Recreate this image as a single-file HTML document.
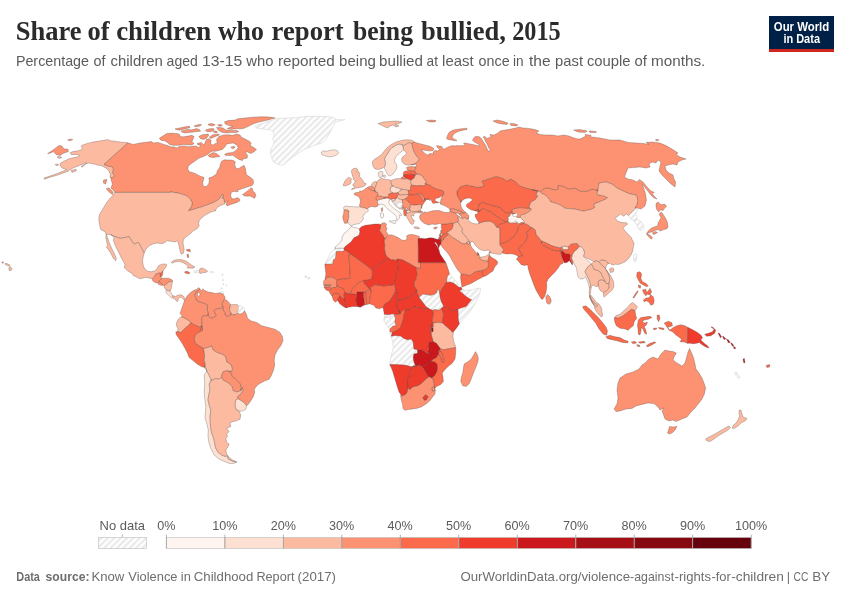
<!DOCTYPE html>
<html lang="en">
<head>
<meta charset="utf-8">
<title>Share of children who report being bullied, 2015</title>
<style>
html,body{margin:0;padding:0;background:#fff;}
body{width:850px;height:600px;overflow:hidden;font-family:"Liberation Sans",sans-serif;}
svg{display:block;}
.title{font-family:"Liberation Serif","DejaVu Serif",serif;font-weight:bold;font-size:27.5px;fill:#2b2b2b;}
.sub{font-family:"Liberation Sans",sans-serif;font-size:14.2px;fill:#5b5b5b;}
.lg{font-family:"Liberation Sans",sans-serif;font-size:12.6px;fill:#5b5b5b;}
.ft{font-family:"Liberation Sans",sans-serif;font-size:12.6px;fill:#6e6e6e;}
.logo{font-family:"Liberation Sans",sans-serif;font-weight:bold;font-size:12px;fill:#fff;}
#map path{fill-rule:evenodd;stroke:#333;stroke-width:.32;stroke-linejoin:round;stroke-opacity:.85}
#map path.nd{stroke:#cfcfcf;stroke-width:.5;stroke-opacity:1}
.nd{fill:url(#hatch)}
.c0{fill:#fff5f0}
.c1{fill:#fee0d2}
.c2{fill:#fcbba1}
.c3{fill:#fc9272}
.c4{fill:#fb6a4a}
.c5{fill:#ef3b2c}
.c6{fill:#cb181d}
.c7{fill:#a50f15}
.c8{fill:#860811}
.c9{fill:#67000d}
</style>
</head>
<body>
<svg width="850" height="600" viewBox="0 0 850 600">
<defs>
<pattern id="hatch" patternUnits="userSpaceOnUse" width="4.5" height="4.5" patternTransform="rotate(45)">
<rect width="4.5" height="4.5" fill="#fff"/>
<line x1="2.25" y1="-1" x2="2.25" y2="5.5" stroke="#e6e6e6" stroke-width="1.9"/>
</pattern>
</defs>
<rect width="850" height="600" fill="#fff"/>
<text class="title" y="40.4"><tspan x="15.8" textLength="65.8" lengthAdjust="spacingAndGlyphs">Share</tspan> <tspan x="87.6" textLength="22.1" lengthAdjust="spacingAndGlyphs">of</tspan> <tspan x="116.2" textLength="95.1" lengthAdjust="spacingAndGlyphs">children</tspan> <tspan x="218" textLength="45.8" lengthAdjust="spacingAndGlyphs">who</tspan> <tspan x="271.6" textLength="72.1" lengthAdjust="spacingAndGlyphs">report</tspan> <tspan x="353" textLength="60" lengthAdjust="spacingAndGlyphs">being</tspan> <tspan x="421" textLength="84.8" lengthAdjust="spacingAndGlyphs">bullied,</tspan> <tspan x="512.2" textLength="48.5" lengthAdjust="spacingAndGlyphs">2015</tspan></text>
<text class="sub" y="65.6"><tspan x="15.9" textLength="73.1" lengthAdjust="spacingAndGlyphs">Percentage</tspan> <tspan x="93.6" textLength="12" lengthAdjust="spacingAndGlyphs">of</tspan> <tspan x="110.5" textLength="52.3" lengthAdjust="spacingAndGlyphs">children</tspan> <tspan x="166.6" textLength="31.2" lengthAdjust="spacingAndGlyphs">aged</tspan> <tspan x="202" textLength="40.2" lengthAdjust="spacingAndGlyphs">13-15</tspan> <tspan x="246.2" textLength="27.2" lengthAdjust="spacingAndGlyphs">who</tspan> <tspan x="278" textLength="56.8" lengthAdjust="spacingAndGlyphs">reported</tspan> <tspan x="339.1" textLength="36.8" lengthAdjust="spacingAndGlyphs">being</tspan> <tspan x="379.1" textLength="43.8" lengthAdjust="spacingAndGlyphs">bullied</tspan> <tspan x="426.6" textLength="11.4" lengthAdjust="spacingAndGlyphs">at</tspan> <tspan x="442.1" textLength="31.5" lengthAdjust="spacingAndGlyphs">least</tspan> <tspan x="478.6" textLength="31" lengthAdjust="spacingAndGlyphs">once</tspan> <tspan x="513.1" textLength="10.6" lengthAdjust="spacingAndGlyphs">in</tspan> <tspan x="529" textLength="21.6" lengthAdjust="spacingAndGlyphs">the</tspan> <tspan x="555.1" textLength="27.9" lengthAdjust="spacingAndGlyphs">past</tspan> <tspan x="586.9" textLength="43.7" lengthAdjust="spacingAndGlyphs">couple</tspan> <tspan x="634.5" textLength="12.4" lengthAdjust="spacingAndGlyphs">of</tspan> <tspan x="651" textLength="54.3" lengthAdjust="spacingAndGlyphs">months.</tspan></text>
<g id="logo">
<rect x="769" y="16" width="65" height="36" fill="#002147"/>
<rect x="769" y="49" width="65" height="3" fill="#ce261e"/>
<text class="logo" x="801.5" y="30.8" text-anchor="middle" textLength="55.4" lengthAdjust="spacingAndGlyphs">Our World</text>
<text class="logo" x="801.7" y="43" text-anchor="middle" textLength="36.6" lengthAdjust="spacingAndGlyphs">in Data</text>
</g>
<g id="map">
<path class="c3" d="M50,153.2L53.6,151.6L56,154.4L60,155.6L63.6,153.2L68.4,151.6L68,149.2L63.6,148.8L62,146L59,145.4L52.4,150.4L47.6,153.6Z"/>
<path class="c3" d="M70,140.8L72.8,139.6L70.4,139L67.6,140Z"/>
<path class="c2" d="M71.6,154.8L77,154.4L79.6,155.6L78,156.8L74,157.6L69,158.8L64,161.2L60.4,163.2L60,165.2L62,168L66.8,169.5L64,170.8L58,173.2L50,176L44,178L44.4,179.2L50,177.2L56,175.6L62,173.6L68,171.2L70,169.6L70.4,169.6L73,168L80,165.2L85,162.8L86.5,162.6L86.7,163L84,164.4L81,166.4L82,167.2L86,164L89,163L91,163.6L94,164L98,165.2L101,165.6L104,167L106.4,168.4L109,171L110.4,174.4L110,177.2L112.4,178L114.4,175.6L112.4,172.4L113.6,169.6L112.4,166.8L109.6,166.4L107,165.6L104,164.4L128,142.8L120,142L115,141.2L110.4,140.8L108,139.6L101,140.8L94,141.8L88,143.2L82,145.2L81,146.4L82.4,148L81,150L78,150.8L73,151.6L70,152.8ZM76,169.2L71,170.4L72,172.4L76.4,170.8ZM59,158.4L62,157.8L60,156.6L57,156.8ZM56,165.6L58.4,165.2L58,164L55.2,164.4Z"/>
<path class="c3" d="M245.9,127.6L254.1,123.5L260,121.8L265.9,120.6L270.6,119.2L275.3,118L271.8,117.3L265.9,116.8L260,116.8L251.8,117.3L244.7,118L237.6,118.8L235.3,120L228.2,120.6L224.5,121.8L225.3,124.1L228.2,125.3L232.9,126.5L229.4,127.6L227.1,128.8L230.6,129.4L236.5,128.8L242.4,128.8ZM198.8,147.4L195.3,145.9L189.4,146.7L183.5,145.9L178.8,146.5L177.6,147.9L172.9,146.7L170,146.9L170,146.4L167.2,145.5L167.1,145.3L165.6,144.9L158,142.4L153,143L152,141.6L148,142L140,143L133,144.4L128,142.8L104,164.4L107,165.6L109.6,166.4L112.4,166.8L113.6,169.6L112.4,172.4L114.4,175.6L112.4,178L110.8,177.5L111.2,180L112.4,184L111,188L114,191L115.2,192.4L170,192.4L170,191.8L177.1,192.9L181.8,194.1L185.3,195.3L188.2,197.1L190.6,199.4L192.1,202.4L191.8,205.3L190.6,207.6L188.4,210.8L193.3,209.4L198.4,207.8L202.9,206.5L212.4,202.9L217.1,200.6L219.4,198.8L221.7,195.3L223.3,194.6L223.3,196.6L221.7,197.6L223.4,198.2L224.7,202.7L224.7,202.6L224.7,202.4L225.9,202.4L227.6,201.2L228.2,200.9L228.2,201L225.9,204.1L227.1,205.9L230,204.7L237.1,202.4L240,200.6L239.4,198.8L237.6,197.6L234.7,198.8L232.1,198.8L230.6,195.9L231.3,192.3L234.7,191.2L235.3,191.8L238.2,191.5L237.6,190.2L252.4,185.3L253.8,182.4L252.9,179.4L250,177.1L246.5,174.7L245.9,171.8L245.3,168.2L244.1,165.3L238.2,168.8L235.9,168.2L234.7,164.7L235.3,161.8L233.5,160.6L231.2,160L227.6,160L224.1,159.8L221.8,161.2L220.6,163.5L220,166.5L218.8,168.8L217.1,171.2L216.8,173.5L214.7,175.3L211.8,177.1L208.8,177.9L209.4,180.6L208.8,183.5L207.1,185.9L204.7,186.8L202.9,185.3L202.7,182.4L204.1,177.4L201.2,176.5L198.2,175.3L195.3,173.5L192.4,172.4L189.4,171.8L188.2,170L187.8,168.2L188.2,166.5L190.6,164.1L194.1,161.8L198.8,158.2L203.5,156.5L207.1,154.7L211.7,151.2L211.7,151.3L211.8,151.2L215.3,151.2L218.8,150.6L222.4,149.4L225.3,146.5L226.6,144L232.9,142.9L236.5,144.7L238.2,147.6L236.5,150L232.9,152.4L228.2,152.9L224.7,154.1L225.3,155.3L229.4,155.6L232.9,155.3L235.3,157.1L238.8,159.4L242.4,160.6L243.5,158.8L247.1,158.2L247.6,155.3L245.3,152.4L247.1,151.8L250.6,153.5L254.1,151.8L256.5,149.4L252.9,147.1L250,145.3L251.2,143.5L249.4,141.2L241.2,137.1L240,134.9L236.5,134.1L232.9,135.3L228.2,134.7L223.5,134.9L218.8,136.5L216.5,139.4L217.1,142.4L217.5,143L214.1,144.1L212.9,145.3L210.6,143.5L211.2,140.6L209.4,138.8L206.5,139.4L205.3,141.8L204.7,144.1L203.4,144.5L201.2,142.4L197.1,143.5L197.6,144.7L201,145.4ZM251.2,187.6L249.4,189.4L242.4,194.7L244.7,195.9L247.1,196.2L249.4,195.9L251.2,196.5L252.9,197.6L254.7,198.2L255.9,195.3L254.7,192.4L252.9,191.2L252.4,188.8ZM220,127.4L216.5,127.6L218.2,130L221.2,132.1L225.9,132.9L230.6,132.6L236.5,132.6L238.8,131.4L236.5,130.6L230.6,130.6L225.9,130L223.5,128.2ZM233.5,146.2L230.6,147.4L232.9,148.8L235.3,147.2ZM221.2,124.4L217.6,124.7L218.8,126.2L222.4,125.9ZM220,156.5L216.5,153.5L212.9,152.4L208.2,155.3L209.4,157.1L212.9,157.6ZM219.4,134.9L218.8,134.1L212.9,134.7L209.4,137.1L210,138.2L211.8,138.2L215.3,136.5ZM216.5,130.9L212.9,131.2L214.7,132.9L217.6,132.4ZM208.2,124.1L208.8,125.3L212.4,125.9L215.3,124.7L211.8,123.5ZM209.4,128.8L205.3,130L207.1,131.8L210.6,131.8L214.1,130L213.5,128.6ZM208.8,135.3L208.2,134.1L202.4,134.7L198.8,136.5L200.6,138.8L203.5,139.4L206.5,138.2ZM194.1,125.9L195.3,126.7L199.4,126.2L201.8,124.7L198.8,124.4ZM181.8,132.1L184.7,132.9L189.4,132.6L195.3,131.8L200.6,131.2L199.4,129.4L196.5,128.6L191.8,129.8L187.1,129.4L181.2,130.9ZM167.1,133.5L166.7,133.6L159.3,138.3L160.3,139.7L160.9,139.9L161.2,140.4L164.7,140.8L168.2,142.9L169.4,144.4L172.9,145.3L178.8,145.3L183.5,144.4L187.1,144.7L191.8,145.1L194.1,143.5L191.8,141.8L192.9,139.4L194.1,136.5L191.8,135.3L188.2,136.1L183.5,136.8L179.4,136.5L179.8,135.6L180.1,135.5L179.9,135.3L180,134.9L177.6,133.5L174.3,133.4L172.3,133.1ZM175.3,128.8L175.6,129L175.2,129.1L176.6,129.5L177.6,130L178.2,129.9L179.4,130.2L185.1,128.8L190,127.7L189.3,126.2L183.7,127L179.9,127.9ZM113,192L109,188L106.4,188.6L107.6,190.4L109.6,192.4L112.4,194.4ZM107,179.4L103.6,180L103.4,183L105.6,184Z"/>
<path class="nd" d="M255.8,127.5L258.3,128.7L265,129.2L270.8,130L273.3,132.5L274.2,135.8L272.5,139.2L274.2,141.7L273.3,145L270.8,149.2L270.5,153.3L271.7,157.5L272.5,160.8L275,163.3L278.3,164.2L281.3,165.3L284.2,164.2L286.7,162L290,159.2L293.3,156.7L298.3,153.3L303.3,150L306.7,148.3L311.7,146.3L316.7,144.7L321.7,143L325,140.8L326.7,138.3L329.2,134.2L330.8,130.8L332.5,127.5L334.2,125L335,122L340,120.8L345,119.7L336.7,119.7L333.3,117.5L328.3,116.7L318.3,116.3L306.7,116.3L298.3,117.5L286.7,118L276.7,118.7L270,120.8L263.3,123.3L258.3,124.7L255,126.3Z"/>
<path class="c1" d="M322,154.7L325,155.8L329.2,157L333.3,156.3L336.7,155L338.7,153L337.5,150.8L334.2,149.7L330,150.3L326.7,151.3L323.3,150.8L321.3,152Z"/>
<path class="c2" d="M225,203.7L224.7,202.5L224.2,200.8L223.4,198.2L221.8,197.6L223.3,196.6L223.3,194.5L221.8,195.3L219.4,198.8L217.1,200.6L212.4,202.9L207.6,204.7L202.9,206.5L198.4,207.8L193.3,209.4L188.4,210.8L190.6,207.6L191.8,205.3L192.1,202.4L190.6,199.4L188.2,197.1L185.3,195.3L181.8,194.1L177.1,192.9L173.5,192.4L170,191.8L170,192.4L115.2,192.4L114.8,191.9L114.2,193L112.5,195.8L109.2,199.2L106.7,202.5L104.2,206.7L101.7,210.8L99.7,214.2L98.7,218.3L99.2,222.5L100,226.7L100.8,229.7L105,231.7L106.2,234.2L110.8,234.7L114.2,236.3L120,238.3L125,237.5L129.2,236.7L130.8,239.2L132.5,242.5L135,244.2L137.5,242.5L139.2,243.3L140.8,246.7L142.5,250L144.2,253L145.8,249.2L149.2,245.8L153.3,243.7L157.5,243L161.7,243.7L165,242.5L166.7,240.8L170.8,241.3L175,242L176.7,240.8L178.3,243L179.2,246.7L180,250.8L181.3,254.2L183.3,253.3L184.2,249.2L183.3,245L183,241.7L184.2,238.3L187.5,235.8L191.7,232.5L193.3,230.8L195,230L197.5,228.3L199.2,225.8L198.6,223.6L199.2,220.8L201.3,218.1L203.3,216.7L204.2,215.8L206.7,214.2L211.7,211.7L211.7,211.7L215.8,210.8L215.8,209.2L215.8,209.2L218.3,206.7L221.7,205Z"/>
<path class="c2" d="M115,245L117.5,250L120,255L122.5,260L125,264.2L124.2,267.5L127.5,270.8L132.9,273.9L132.9,275.3L140,278.8L142.4,278.2L145.9,277.3L149.4,278.2L152.4,278.8L154.7,276.5L155.9,274.1L157.6,273.5L160,272.9L160.2,273.5L162.1,271.8L162.9,271.2L164.1,269.4L165.9,267.1L166.8,264.7L165.3,263.9L161.2,264.4L158.2,265.9L157.1,268.8L154.7,270.9L151.2,271.8L147.6,271.2L144.7,268.8L143.3,266L143.3,265.8L142.5,260.8L143.3,256.7L144.2,253L142.5,250L140.8,246.7L139.2,243.3L137.5,242.5L135,244.2L132.5,242.5L130.8,239.2L129.2,236.7L125,237.5L120,238.3L114.2,236.3L110.8,234.7L114.2,237.5L113.3,240ZM106.7,241.7L107.5,245.8L106.3,247.5L108.3,249.2L110.8,253.3L113.3,258.3L115.8,260.8L116.3,258.3L114.2,253.3L111.7,248.3L109.2,242.5L107.5,237.5L106.2,234.2L105.8,237.5Z"/>
<path class="c2" d="M11.2,270.6L12,268.8L10.8,267L9,267.4L8.8,269L9.4,270.8ZM9.8,266.2L9.8,265L7,263.6L5,263.4L5.2,264.6L7.5,265.6ZM3.5,263L3.4,261.8L1.8,262L2,263.2Z"/>
<path class="nd" d="M309.8,279L309.8,277.4L308,277.4L308,279ZM306.6,277.4L306.6,276L305,276L305,277.4Z"/>
<path class="c4" d="M160.2,273.5L160,275.3L160.6,277.3L162.1,276.1L162.8,273.5L162.9,271.2L162.1,271.8Z"/>
<path class="c3" d="M152.7,280.8L154.1,282L156.5,282.9L158.2,282.4L158.1,282.5L159.4,281.3L159.4,280.8L162.1,278.2L160.6,277.3L160,275.3L160.2,273.5L160,272.9L157.6,273.5L155.9,274.1L154.7,276.5L152.4,278.8Z"/>
<path class="c3" d="M157.9,283.9L160,285.1L162.6,285.5L162.9,284.5L161.2,283.3L159.4,281.3L158.2,282.4Z"/>
<path class="c3" d="M168.8,282L172.6,281.1L172.7,280.8L171.2,279.2L168.2,278.2L162.1,278.2L159.4,280.8L159.4,281.3L161.2,283.3L162.9,284.5L162.9,284.7L164.1,285.9L165.3,284.7L167.1,283.5Z"/>
<path class="c2" d="M164.1,287.4L165.9,289.4L166.1,289.6L166.1,289.8L167.8,290.7L167.7,290.6L170,291.2L170.8,290L171.5,287.1L172,284.1L172.6,281.1L168.8,282L167.1,283.5L165.3,284.7L164.1,285.9Z"/>
<path class="c1" d="M165.9,291.2L166.5,293.3L168.2,294.7L170,296.5L171.5,298.2L172.7,297.1L172.7,297.2L173,295.6L172.5,295.4L171.2,292.9L170,291.2L167.6,290.6L166.1,289.8Z"/>
<path class="c2" d="M172.9,298.2L174.7,298.8L175.9,300.6L177.6,301.5L178.2,299.4L179.4,297.6L181.2,297.1L182.9,298.8L184.5,300.6L185.3,299.4L184.1,297.1L182.4,295.3L180,294.7L177.6,295.3L175.3,296.5L172.9,295.6L172.7,297.1Z"/>
<path class="c2" d="M172.4,263.2L174.7,262L177.6,261.5L180.6,261.8L183.5,262.9L186.5,264.7L188.2,266.5L187.1,267.9L190.6,268.2L194.1,267.9L194.7,266.7L191.8,265.3L189.4,263.5L187.1,261.8L184.7,260.6L181.2,259.6L177.6,259.4L173.5,260.6L171.2,262.4Z"/>
<path class="c4" d="M184.9,272.8L186.5,273.5L189.4,273.8L189.6,272.4L187.1,271.2L184.7,271.8Z"/>
<path class="nd" d="M194.1,272.6L197.1,272.6L199.8,272.9L199.4,270.6L196.5,270.2L193.9,271.2Z"/>
<path class="c2" d="M202.9,272.6L205.9,272.4L207.6,271.2L205.3,269.4L202.4,267.9L199.8,268.8L199.8,270.6L199.4,270.6L199.8,273.1L199.8,273L200.6,273.5Z"/>
<path class="nd" d="M210.6,273.1L213.9,272.4L212.9,271.4L209.6,271.8Z"/>
<path class="c4" d="M188.8,251.2L190.6,251.8L190,249.4L186.5,249.4L186.8,250.9ZM188,258L188.8,257.1L188.2,254.1L187.1,254.5L187.3,256.5Z"/>
<path class="nd" d="M221.2,294.1L223.5,293.3L222.9,291.4L220,292.4Z"/>
<path class="nd" d="M226.1,284.9L226.1,285.9L226.8,285.9L226.8,284.9ZM223.9,283.5L223.1,283.5L223.1,284.9L223.9,284.9ZM223.4,279.4L222.6,279.4L222.6,280.8L223.4,280.8ZM222.8,274.1L221.9,274.1L221.9,275.6L222.8,275.6ZM220.9,287.9L220.9,289.1L221.8,289.1L221.8,287.9Z"/>
<path class="c3" d="M222.4,302.4L221.8,304.7L222.9,306.5L222.9,310L224.7,312.4L225.3,315.3L227.6,316.5L230.6,315.3L231.2,312.9L229.4,310L230,307.6L230.6,304.7L228.8,302.4L226.5,300L224.1,299.4Z"/>
<path class="c2" d="M235.3,314.7L237.6,313.5L238.2,310L238.8,306.5L237.6,304.7L234.1,304.4L230.6,304.7L230,307.6L229.4,310L229.7,310.5L231.2,312.9L231,313.5L231.3,314.2L232.1,314.5L232.4,314.9Z"/>
<path class="c3" d="M194.4,295.9L195.9,298.2L196.5,300.6L198.8,301.8L202.4,302.9L205.9,304.1L207.6,305.3L207.1,307.6L207.6,311.2L208.2,314.1L208.8,316.5L210.6,318.2L213.5,317.6L216.5,315.9L215.3,313.5L214.1,310.6L215.3,309.4L217.6,308.8L221.2,308.2L222.9,306.5L221.8,304.7L222.4,302.4L224.1,299.4L225.3,298.2L224.7,296.5L223.5,294.7L222.9,293.5L221.2,294.1L220.2,292.7L218.8,292.9L215.3,293.5L211.8,292.6L208.2,292.1L204.7,290.6L202.9,288.8L201.2,291.2L200,288.8L198.2,290.6L196.5,291.2L195.3,293.5ZM200,294.7L198.8,296.5L197.6,295.3L197.6,292.9L199.4,292.4Z"/>
<path class="nd" d="M240,314.2L242.5,313.3L245,310.3L244.2,308.3L240.8,305.8L238.1,305.3L238.8,306.5L238.2,310L237.7,313.4Z"/>
<path class="c2" d="M180,317.5L178.3,319.2L176.7,322.5L176.3,325.8L178,328.3L177.5,331.7L180.8,332.5L183.3,330L185.8,327.5L189.2,325L190.8,322.5L188.3,320L185,318.3L181.7,316.7Z"/>
<path class="c4" d="M175.8,331.7L176.3,334.7L178.3,337.5L181.7,342.5L185,348.3L187.5,353.3L189.2,357.5L193.3,360.8L197.5,364.2L201.7,366.7L204.7,367.5L205.3,364.2L204.2,360L204.7,355.8L204.2,351.7L203.3,348.3L199.2,345.8L195.8,343.3L194.2,339.2L195,335.8L198.3,332.5L202.5,330.8L200.8,330L201.7,325.8L199.2,326.7L195,325L190.8,322.5L189.2,325L185.8,327.5L183.3,330L180.8,332.5L177.5,331.7Z"/>
<path class="c3" d="M207.6,305.3L205.9,304.1L202.4,302.9L198.8,301.8L196.5,300.6L195.9,298.2L194.4,295.9L195.3,293.5L196.5,291.2L198.2,290.6L200,288.8L198.8,287.6L196.5,289.4L193.5,290.6L190.6,292.4L188.2,294.7L186.5,297.1L185.3,299.4L184.5,300.6L180,313.5L182,315.5L181.7,316.7L185,318.3L188.3,320L190.8,322.5L195,325L199.2,326.7L201.7,325.8L202.5,330L202,323.3L201.7,319.2L202,317.7L202.9,315.9L203.1,315.8L207.5,315.8L207.8,314.2L208.2,314.1L208,313.1L207.6,311.2L207.3,309.1L207.1,307.6Z"/>
<path class="c2" d="M226.7,370.8L231.7,371.7L232.5,368.3L230.8,364.2L226.7,361.7L225.8,356.7L222.5,354.2L217.5,352.5L213.3,350L211.7,345.8L207.5,347.5L203.3,348.3L204.2,351.7L204.7,355.8L204.2,360L205.3,364.2L205.1,365.6L205.8,368.3L207.5,372.5L210,377.5L211.7,380.8L214.2,379.2L216.1,378.5L217.5,379.2L220,378.3L220.1,378.3L220.8,378.3L221,377.9L221.7,377.5L221.7,375L223.3,371.7Z"/>
<path class="c3" d="M226.7,370.8L223.3,371.7L221.7,375L221.7,377.5L223.3,380.3L227.5,382.5L231.7,386L233.4,391L233.4,390.8L236.7,392L240.8,390.8L241.3,386.7L240,383.3L235,378.3L232.5,376.7L230.8,372.5L229.6,371.7L229.5,371.3Z"/>
<path class="c1" d="M235,403.3L235.3,407.5L236.7,410L240,411.3L243.3,410.8L245.8,409.2L246.7,405.8L245,403.3L241.7,400.8L238.3,398.7L235.8,399.7Z"/>
<path class="c1" d="M204.7,398.3L205.8,406.7L205.3,413.3L205,418.3L206.7,423.3L208.3,430L208,435.8L208.7,441.7L210.8,448.3L214.2,455L219.2,459.2L225,461.7L230,463.7L234.2,463.3L236.7,462L233.3,461.3L228.3,459.2L227.5,455.8L225,456.3L221.7,455L218.3,452.5L215.8,448.3L214.7,443.3L213.7,438.3L211.7,433.3L210.8,428.3L210.3,423.3L210,416.7L210.8,410L209.2,405L208,400L208.7,395L210,390L209.2,385L210.8,380L211,379.5L210,377.5L207.5,372.5L206.9,371L204.2,375L204.7,383.3L204.2,391.7ZM206.8,370.9L205.8,368.3L205.1,365.6L204.7,367.5L204.2,367.4Z"/>
<path class="c2" d="M242.5,387.5L241.2,390L240.9,390L240.8,390.8L236.7,392L233.3,390.8L231.7,386L227.5,382.5L223.3,380.3L221.7,377.5L221,377.9L220.8,378.3L220.1,378.3L217.5,379.2L216.1,378.5L214.2,379.2L211.7,380.8L211,379.5L209.2,385L210,390L208.7,395L208,400L209.2,405L210.8,410L210,416.7L210.3,423.3L210.8,428.3L211.7,433.3L213.7,438.3L214.7,443.3L215.8,448.3L218.3,452.5L221.7,455L225,456.3L227.5,455.8L228.3,459.2L233.3,461.3L236.7,462L232.5,460L229.4,457.7L226.7,454.2L225.8,450L227.5,447.5L229.2,444.2L226.7,442.5L225.8,438.3L227.5,436.7L226.7,434.2L229.2,431.3L227.5,430L226.7,428L230.8,426.7L230,423L232.5,421.7L236.7,420.8L240,419.2L240.8,415L238.8,410.8L236.6,410L235.3,407.5L235,403.3L235.8,399.7L238.4,398.7L237.5,396.6L240.8,394.2L243.3,390Z"/>
<path class="c3" d="M202.5,330L201.7,325.8L200.8,330L202.5,330.8L198.3,332.5L195,335.8L194.2,339.2L195.8,343.3L199.2,345.8L203.3,348.3L207.5,347.5L211.7,345.8L213.3,350L217.5,352.5L222.5,354.2L225.8,356.7L226.7,361.7L230.8,364.2L232.5,368.3L231.7,371.7L228.8,371.2L230.8,372.5L232.5,376.7L235,378.3L240,383.3L241.3,386.7L240.9,390L241.2,390L242.5,387.5L243.3,390L240.8,394.2L237.5,396.7L238.3,398.7L241.7,400.8L245,403.3L246.7,405.8L248.3,404.2L250.8,400.8L253.3,396.7L254.7,392.5L254.3,389.1L255,388.3L257.5,385L261.7,382.5L265,380.8L269.2,379.2L270.5,376.9L270.8,376.7L271.2,375.7L271.7,375L271.8,374.3L273.3,370.8L274.7,365L274.2,360L275,355L277.5,350L280.8,345.8L283,340.8L282.5,336.7L280,332.5L275,329.2L261.7,325.8L256.7,322.5L250.8,320.8L247.5,318.3L246.7,315L244.6,310.8L242.5,313.3L240,314.2L237.7,313.4L237.6,313.5L235.3,314.7L232.4,314.9L232.1,314.5L231.3,314.2L231,313.5L230.6,315.3L227.6,316.5L225.3,315.3L224.7,312.4L222.9,310L222.9,306.5L221.2,308.2L217.6,308.8L215.3,309.4L214.1,310.6L215.3,313.5L216.5,315.9L213.5,317.6L210.6,318.2L208.8,316.5L208.2,314.1L207.8,314.2L207.5,315.8L203.1,315.8L202.9,315.9L202,317.7L201.7,319.2Z"/>
<path class="c2" d="M344.5,185.9L346.3,185.6L348.4,184.9L350.2,183.8L351.2,182.4L350.9,180.6L351.6,178.9L350.2,177.8L348.4,177.5L346.6,178.9L344.9,181L343.8,183.5L343.1,185.6Z"/>
<path class="c2" d="M361.2,178.2L359.4,176.5L360,174.1L358.8,171.8L356.5,171.8L358.2,170L356.5,168.2L353.5,168.6L351.8,170L351.4,171.4L351.8,173.5L352.6,175.3L352.3,175.4L352.6,176.4L353.3,177.2L353.4,177.7L353,178.9L354.1,180.3L355.5,181L355.1,182.4L353.7,183.5L352.6,184.9L353.4,185.9L354.8,186.6L353.7,187.7L351.9,188.8L351.6,189.8L353.4,189.1L355.5,188.3L357.6,187.7L360.1,187.4L361.8,187L363.2,186.6L364.6,185.9L365.7,184.9L366.1,183.5L364.3,183.1L364.1,182.9L362.9,180.6Z"/>
<path class="c3" d="M374.5,191.4L375.4,191.6L375.4,190.2L374.5,190.2Z"/>
<path class="c3" d="M374.5,188.1L373.1,187L371,186.3L368.9,186.6L367.5,187.4L368.9,188.8L371,190.2L374.5,191.2L374.5,190.2L375,190.2Z"/>
<path class="c2" d="M375.6,187.4L375.9,185.6L376.6,183.8L377,182.1L375.9,181.4L373.5,182.1L371.7,184.2L371,186.3L373.1,187L374.5,188.1Z"/>
<path class="c3" d="M376.3,199.7L377.4,200.8L378.8,200.1L380.9,199.4L383,199L384.4,197.9L383.7,196.9L381.6,196.2L379.1,195.8L377.4,195.5L376.6,196.9L375.6,198.3Z"/>
<path class="c3" d="M344.8,209.9L343.9,210L343.9,211.8L343.5,214.1L342.7,217.1L343.2,219.4L343.9,221.8L344.7,223.5L347.6,222.9L348.2,220L348.8,216.5L348.6,214L348.8,213.1L349.1,211L348.5,210.6L347.6,209.8L346.6,209.8L344.9,209.6Z"/>
<path class="c3" d="M381.5,211.5L382.4,211.2L382.8,209.4L382.4,207.6L381.2,208.4ZM374.6,191.2L373.3,190.8L371,190.2L368.9,188.8L367.5,187.4L365.7,188.4L363.2,190.2L361.5,191.2L359.7,190.9L359.4,192.5L355.8,192.6L354.1,193.7L354.4,194.8L356.2,195.5L358.3,196.5L359.7,198.3L360.4,200.8L360.1,203.2L359.4,205.4L360.1,207.1L364.6,208.2L367.1,208.9L368.9,207.8L371,206.4L375.2,207.1L377.4,206.4L378.7,204.7L378.2,204.3L377.7,202.9L377.4,201.4L377.7,200.6L377.4,200.7L376.3,199.7L375.6,198.3L376.7,196.9L377.4,195.4L378.4,193.7L377.4,192.3L374.5,191.4Z"/>
<path class="c3" d="M406.5,167.5L407,169.5L409,170.5L411.5,171L414,171.2L415,170L416,168L415,166.8L412,166.5L409,166.8Z"/>
<path class="c4" d="M404.5,171.2L403.5,172.5L403.3,174.2L403.5,174.3L403.5,175L404.6,175L404.5,175L407,174.5L410,174.2L413,174.5L415.5,175L417,174L416,172.2L414,171.2L411.5,171L409,170.5Z"/>
<path class="c5" d="M412.9,174.4L412.9,174.5L410,174.2L407,174.5L404.5,175L403.5,175L403.5,176.5L405,177.5L407,178.5L409,179.8L411,180L413,179L414.5,177.5L415,175.5L414.6,175.3L414.5,174.8Z"/>
<path class="c3" d="M401,177.5L401.2,178.8L403.5,179L406.5,179.2L407,178.5L405,177.5L403.5,176.5Z"/>
<path class="c2" d="M411,180L410.5,183L411.5,185L414,185.5L417,185.8L420.5,185.5L423.5,186L425.5,185L425,183.5L426.5,182.5L426,181L424,178.5L422.5,176L420,174.5L417,174L415.5,175L415,175.5L414.5,177.5L413,179Z"/>
<path class="c2" d="M400.9,178.8L397,178.5L393.5,179.5L390.5,180.5L390.8,182.5L391.8,185.6L392.9,186.2L393.5,186L395.5,187.5L398,188L400.5,189L409,190.5L411,189.5L410.5,187L411.5,185L410.5,183L411,180L409.1,179.8L407,178.5L406.5,179.2L403.6,179L401.2,178.8Z"/>
<path class="c2" d="M403.5,150L406,152.5L406.5,154L402.5,157L401.5,159L402,161.5L403.5,163.5L405.4,164.4L405.4,164.5L405.5,164.5L405.5,164.6L408,165.2L411,165L411.7,164.9L411.6,164.7L414,164.2L416,163L418,161L419.5,159L417.5,157L416,155L414.5,152.5L413.5,150L412,144.5L410.5,142.5L408,142.8L406,144.2L404,145.5L402,144.5L403,147Z"/>
<path class="c1" d="M399.5,144L397,144.5L394.5,146L392,147.5L390,149.5L388.5,152L387,154.5L385.5,156.5L384.5,159L385,161.5L385.5,164L384.5,166.5L384.5,168.5L385.5,170.5L386.5,172.5L387.5,174.5L389,176L391,175.5L393,174L394.5,172L396,170L397,167L396.5,164.5L395,162.5L394.5,160L395.5,157.5L397.5,155L399.5,153L402,151.5L403.5,150L403,147L402,144.5Z"/>
<path class="c2" d="M412,143L412.2,143L412.5,143L414.5,142L413,140.8L410.5,140L407,139.8L403,140L396,142L393,143.5L390.5,145L388,147L385.5,149.5L381.5,154.5L379,156.5L374,159.5L372.5,161.5L372.5,164L373.2,166.5L375,169L377.5,169.5L380.5,169L383,168L384.5,166.5L385.5,164L384.5,159L385.5,156.5L387,154.5L390,149.5L392,147.5L397,144.5L399.5,144L402,144.5L404,145.5L406,144.2L408,142.8L410.5,142.5L411.4,143.7ZM390,126L393,125L396,127L399,126L395,124.4L399,123.6L402,122L396,121L389,121.6L383,122L378,123.6L381,125L385,127L388,128Z"/>
<path class="c1" d="M385,177.5L386.2,176.2L385,175L383,175.5L383.5,177ZM378.8,176.5L380,178L382,177L382.5,175L383,172.5L382,171.2L380,171.5L378.5,172.5L378.3,174.5Z"/>
<path class="c3" d="M419.1,193.6L419.1,193.6L416.7,194L418.4,194.8L420,195.8L421.4,197.5L422.1,199.6L423.2,201.4L424.4,200.4L424.6,198.2L423.2,196.1L421.1,194.4L419,193.7Z"/>
<path class="c4" d="M444,194L443.6,191.2L440.8,190.1L438,189.4L435.2,188.4L432.4,186.9L430.6,185.2L428.1,184.5L425.3,183.4L425,183.5L425.5,185L423.5,186L420.5,185.5L417,185.8L414,185.5L411.5,185L410.5,187L411,189.5L409,190.5L408.2,190.4L408,191.2L408.7,193.3L409.8,194.7L411.9,195.1L414.7,194.7L416.8,194L418.9,193.6L421.1,194.4L423.2,196.1L424.6,198.2L424.9,200.4L426,199.3L428.1,198.9L430.2,199.6L431.6,200.4L432.1,202.6L433.5,203.5L435,203L437.5,202.8L438.1,203L438.7,202.1L436.7,201.8L436.7,201.4L436.5,201.5L435.2,200.8L435,199.5L436.5,198.2L438.8,197.8L440.8,196.5L442.9,195.4Z"/>
<path class="c2" d="M401.3,189.1L401.3,190L399.9,190.5L398.1,192.6L398.8,194.4L400.6,195.1L402.7,194.8L405.5,194.7L407.6,194.4L408.7,193.3L408,191.2L408.2,190.4Z"/>
<path class="c1" d="M390.7,186.9L390,189.8L390.7,191.2L392.1,192.6L394.2,193.3L396.4,192.9L398.1,192.6L399.9,190.5L401.3,190L401.3,189.1L400.5,189L398,188L395.5,187.5L393.5,186Z"/>
<path class="c2" d="M397.1,196.1L397.1,197.5L398.1,198.6L399.9,199.6L402,200L404.1,199.3L405.9,198.6L407.3,197.2L408.7,195.4L407.6,194.4L405.5,194.7L402.7,194.8L400.6,195.1L398.8,194.4Z"/>
<path class="c4" d="M409.8,194.7L408.7,193.3L407.6,194.4L408.7,195.4L407.3,197.2L405.9,198.6L406.6,200.4L408,201.8L409.8,203.2L411.2,204.6L414,205.2L416.8,204.9L419.6,204.6L421.2,205L421.6,205.9L420.8,208.1L420.9,208.1L421,207.7L421.5,208.6L422.5,205L424.5,202L426.5,199.5L428,199L430.1,200.6L428.6,199.1L428.1,198.9L426,199.3L425,200.3L424.6,198.1L424.4,200.3L423.2,201.4L422.1,199.6L421.4,197.5L420,195.8L418.2,194.7L416.8,194L414.7,194.7L411.9,195.1Z"/>
<path class="c4" d="M390,193.6L388.6,194L388.6,196L387.7,196.7L383.8,197L384.4,197.9L384,198.3L384.2,198.8L387,198.1L389.1,198.8L391.2,199.5L393.4,198.8L395.5,199.2L396.5,198.5L396.7,197.7L397.1,197.5L397.1,196.1L398.8,194.4L398.1,192.6L396.4,192.9L394.2,193.3L392.1,192.6Z"/>
<path class="c1" d="M391.2,199.5L392,201.2L393.5,201.2L393.4,201.1L395.1,200.6L395.5,199.2L393.4,198.8Z"/>
<path class="c1" d="M398.1,198.5L397.1,197.5L396.7,197.6L396.5,198.5L395.4,199.2L395.1,200.6L393.4,201.2L391.9,201.2L392.6,202.4L393.7,203.1L394.4,204.5L395.8,206.2L397.6,207.6L399.7,208.9L401.1,209.1L399.6,208.1L400.1,208L398.7,207.3L397.3,205.9L396.2,204.5L396.2,202.6L398.3,202.1L400.4,202.4L402.5,202.7L402.5,199.8L402,200L399.9,199.6L398.1,198.6L398,198.5Z"/>
<path class="nd" d="M396.2,204.5L397.2,205.9L398.6,207.3L400.1,208L401.4,207.7L401.4,207.7L402.9,206.6L402.2,205.9L402.9,204.1L402.5,202.7L400.4,202.4L398.3,202.1L396.2,202.6Z"/>
<path class="c3" d="M402.9,209.4L403.6,208.4L403.9,206.9L402.9,206.6L401.5,207.6L401.9,209.2L402.5,209.2Z"/>
<path class="nd" d="M405.4,209.4L406.4,209.9L407.5,208.9L406.8,207.8L405.4,207.6Z"/>
<path class="c4" d="M406.6,213L408,213.2L406.7,212.6L406.4,210.8L404.6,209.1L403.6,209.8L403.6,212.2L403.9,214.4L404.6,216.1L406.3,215.6L406.4,215.9L406.5,215.9L406.2,214.5L406.4,214L406.3,213.5Z"/>
<path class="c1" d="M406.6,212.6L407.8,213.2L409.9,212.6L411,211.5L410.3,210.3L408.2,210.1L406.4,210.8Z"/>
<path class="c3" d="M402.5,199.8L402.5,202.7L402.9,204.1L402.2,205.9L402.9,206.6L403.9,206.9L403.6,208.4L404.6,209.1L406.4,210.8L408.2,210.1L410.3,210.3L409.6,208.4L410.1,207L410.3,207L411,204.3L409.8,203.2L408,201.8L406.6,200.4L405.9,198.6L404.1,199.3L402.3,199.9L402.3,199.9ZM406.4,209.9L405.4,209.4L405.4,207.6L406.8,207.8L407.5,208.9Z"/>
<path class="c2" d="M410.1,206.9L409.6,208.4L410.3,210.3L411,211.5L411.7,212.2L418.1,211.2L420.9,211.2L420.8,211.1L421.1,211L420.7,210.9L420.2,209.8L420.9,208L421.6,205.9L421.3,205L419.6,204.6L416.8,204.9L414,205.2L411.2,204.6L410.9,204.4L410.3,206.9Z"/>
<path class="c2" d="M418.8,227.4L415.9,226.7L413.8,227.1L414.9,228.3L417.4,228.8L419.8,228.5ZM411,211.5L409.9,212.6L407.8,213.2L406.6,212.9L406.3,213.5L406.4,214L406.2,214.6L406.8,217.2L409.9,222.5L411,223.9L412.4,224.6L413.5,223.5L413.1,221.8L414.5,221.4L414.2,220.4L412.8,218.9L411.7,217.2L411,215.4L412.1,215.1L413.1,216.1L414.2,215.8L413.5,214.4L414.5,213.3L418.6,212.6L418.1,211.2L411.7,212.2Z"/>
<path class="c0" d="M378.9,204.8L380.6,204.1L382.8,204.5L384.5,205.2L385.6,206.9L387,208.4L388.8,210.1L390.5,211.2L392.3,212.6L394.1,214L395.5,215.8L396.9,217.5L396.2,218.9L396.9,220.4L398.3,219.6L399.7,217.9L399.4,216.1L399.7,214.7L401.1,215.8L402.2,215.1L401.1,213.6L399,212.2L396.9,210.5L394.8,209.1L392.6,207.3L390.9,205.5L389.5,204.1L388.8,202.4L389.1,200.9L390.2,199.9L389.9,199.1L389.1,198.8L387,198.1L384.2,198.8L384,198.3L383,199L380.9,199.4L378.8,200.1L377.6,200.6L377.4,201.4L377.7,202.9L378.2,204.4ZM393.4,223.2L395.1,223.9L395.8,222.1L396.2,220.5L394.8,220.4L391.9,221.1L389.5,220.7L389.8,221.8L391.2,222.5ZM382.8,217.9L383.6,216.5L383.5,213.6L382.1,212.7L380.3,213.3L380.6,216.8L381.4,218.2Z"/>
<path class="c2" d="M384.4,179.2L382.3,178.5L380.2,178.9L378.1,180.3L377,182.1L376.6,183.8L375.9,185.6L375.6,187.3L374.5,188L375,190.2L375.4,190.2L375.4,191.6L375.2,191.6L377.4,192.3L378.4,193.7L377.4,195.5L379.1,195.8L381.4,196.2L383.7,196.9L383.8,197.1L386.7,196.8L387,196.7L387.7,196.7L388.6,196L388.6,194L390,193.6L392.1,192.6L390.7,191.2L390,189.8L390.7,186.9L392.9,186.2L391.8,185.6L390.8,182.5L390.5,180.5L390.6,180.5L390.1,179.9Z"/>
<path class="c1" d="M364.7,208.1L360.1,207.1L359.8,206.5L358.2,207.1L353.5,206.7L348.8,206.5L345.3,205.9L343.5,207.6L343.5,208.8L344.7,210L344.8,209.9L344.9,209.6L346.6,209.8L347.6,209.8L348.5,210.6L349.1,211L348.6,214L348.8,216.5L348.2,220L347.6,222.9L348.8,223.5L350,225.3L351.6,225.8L351.4,226.2L353.5,224.7L359.4,223.5L361.8,221.2L363.5,218.8L362.9,216.5L364.1,214.1L368.8,210.6L367.1,208.9Z"/>
<path class="c4" d="M477,255L478,255.8L478.5,254.7L479.1,255.6L478.5,253.5L477.6,252.2L476.8,252.5Z"/>
<path class="c2" d="M470,243L471.3,241.8L471.1,241.7L469.4,242.2L468.5,241.2L466.8,242L467.2,244L469,244.5Z"/>
<path class="c2" d="M479.5,258.5L482,260L485,261L488,261.5L488,260L488.8,257.5L489.5,255L489,253.5L487.5,255L485.5,256.2L483,256.8L480,257.2Z"/>
<path class="c4" d="M481.5,270.5L482.5,274L483.5,276.5L485.5,276L488,274.5L490.5,272.5L493,271L494,268.5L495,266.5L497,264.5L497.8,262L496,260L491,257L489.5,255L488.8,257.5L488,260L488,261.5L488.5,264L488,267.5L485,269.5ZM490.2,251.2L489.9,251.3L490,251.5L489,253.3L490.3,253Z"/>
<path class="c4" d="M478,271L474.5,272L472,274L470,275.5L466,274.5L461,274L460.5,277L461,281L461.5,284.5L462,287L463.5,286.5L467,285L471,283.5L474.5,281.5L478,279.5L481,278L483.5,276.5L482.5,274L481.5,270.5Z"/>
<path class="c3" d="M434.5,229.2L436.5,228.5L437.5,227.2L435.5,227L433.5,227.8Z"/>
<path class="c0" d="M457.1,215.1L457.1,215.1L461,218L462.5,218.5L461.5,216.5L460,214.5L458,213L458.1,213L454.9,213Z"/>
<path class="c3" d="M450.2,211.6L450.2,211.5L452,212L455,213L457.9,213L460,214.5L460.5,213.5L463,213L462,211.5L453,208.5L450.2,209L450.2,209.9L450,209.9L450.2,211.7Z"/>
<path class="c3" d="M460,214.5L461.5,216.5L462.5,218.5L463.5,218.5L465,217.5L467,219L467.8,218.4L468.1,219.2L468.6,217.9L468.5,218L469,216L467.5,214L466,212.5L463,213L460.5,213.5Z"/>
<path class="c2" d="M440.5,233.5L441.5,233L441.8,230L440.5,230.5Z"/>
<path class="c6" d="M440.4,237.2L441.3,237L441.2,235.2L440.2,235.5Z"/>
<path class="c3" d="M440.5,233.5L440.5,233.6L439.5,234L439,237.5L440,240.5L440.8,238.5L441,237.1L440.4,237.2L440.2,235.5L441.1,235.2L440.8,233.3Z"/>
<path class="c4" d="M440.5,241L441.8,241.5L443.5,240L444.5,237.5L447,236L448.5,234L447,232.5L444.5,234L442.5,235L441.2,236L441.3,237L441,237.1L440.8,238.5Z"/>
<path class="c4" d="M452.2,229L453,226L453.5,223.5L452,223L446,224L443,223.8L441.5,224.5L441.2,227.5L442,229.9L441.8,230L441.5,233.1L441.5,233.2L441.5,233L442.5,235L444.5,234L449.5,231Z"/>
<path class="c3" d="M424.4,211.9L425.1,212.5L422.5,212.8L422,214L420,215L419.5,217.5L420.5,220L422.5,222L424.5,223.5L427,224.5L429,225L432,224L435,224.5L438,224L440,223.5L441.5,224.5L443,223.8L446,224L451.9,223L453.5,223.5L455.5,222.5L458.2,222L458.1,221.9L458,222L458.5,220L458,217.5L459,216.5L456.9,214.9L455,213L452,212L450.2,211.5L448.5,212.5L445,212.5L439,210.5L436,210.5L433,210.8L430,211.5L427.1,212.5ZM420.9,211.2L418,211.1L418.6,212.6L418.9,212.6L420,213.2L422.2,212.8L422.5,211.5L421,211L420.8,211Z"/>
<path class="c2" d="M448.5,234L452.5,237.5L456,239.5L462,243.5L465,244L466.9,242.6L466.8,242L468.5,241.2L469.2,242.1L469.5,242L469,240.5L465,235.5L463,233.5L462,231L462.5,228.5L460.5,226L459,223.5L458,222L455.5,222.5L453.5,223.5L453,226L452.2,229L449.5,231L447,232.5Z"/>
<path class="c2" d="M468.6,217.9L467,219L465,217.5L463.5,218.5L462.5,218.5L461,218L459,216.5L458,217.5L458.5,220L458,222L459,223.5L460.5,226L462.5,228.5L462,231L463,233.5L465,235.5L469,240.5L469.5,242L469.2,242.1L470,243L471.5,241.5L473.5,242L474.5,244L476,246L478,248L480,249.5L483,250.5L486,250.5L489,250L489.9,251.3L490.2,251.2L490.3,253L490.8,252.9L490.9,253L495.2,253.8L500.1,254.5L502.2,253L503.7,249.5L500,244.9L500,228L496.5,227.1L496.6,226.8L495.6,225.9L495,224L492,222L489,221L486.9,221.3L486.7,221.2L482.4,221.9L478.9,223.3L478.4,223.4L478,224L475,223.8L472,223L469.5,221.5L468,219.5Z"/>
<path class="c6" d="M440.5,241L440.8,238.4L440,240.5L439,237.5L438.5,239.5L436,239L433,238L430,237.8L425,238.8L421,238.2L418,238.5L418.2,250L418.2,262.7L420.5,262.7L420.5,262.8L446,262.8L446,262.7L444,260L440,254L439,250L438.3,248.5L439.5,246L440.1,244.1L440.8,245.1L441.2,241.2ZM437.9,247.7L436,244.5L434.5,242.8L435,242L436.5,243L437.5,245L438.3,247.5Z"/>
<path class="c3" d="M470,242.9L469,244.5L467.2,244L466.9,242.6L465,244L462,243.5L456,239.5L452.5,237.5L448.5,234L447,236L444.5,237.5L443.5,240L441.8,241.5L441.2,241.3L440.8,245L443,248L445.5,250.5L449.5,255.5L451,258.5L457,269L459.5,272L461,274L466,274.5L470,275.5L472,274L474.5,272L478,271L481.5,270.5L485,269.5L488,267.5L488.5,264L488,261.5L485,261L482,260L479.5,258.5L480,257.2L479,255.5L478.5,253.5L478.5,253.5L478.7,254.2L478,255.8L476.9,254.9L476.5,254.5L475.5,252L474,250L472,248L470.6,245.2L471,245L470.5,244.5Z"/>
<path class="c4" d="M475,210L474.9,210.7L476,211L478,212.5L477.5,214L475.5,214L475,216L476.2,218.5L477.5,220.5L479,222.5L478.4,223.4L478.9,223.3L479.9,222.9L479.9,222.9L482.4,221.9L486.7,221.2L486.9,221.3L489,221L492,222L495,224L495.6,225.9L496.6,226.8L499.4,224.7L503.7,223.3L506.5,221.9L502.2,219.8L498,216.9L493.8,214.1L490.2,211.2L486.7,210.5L483.8,208.4L480.3,209.8L479.2,212.1L479,210Z"/>
<path class="c0" d="M511.2,223L511.7,223.2L511.7,222.9L514.4,221.8L515.4,220.8L516.8,221.5L517.5,223.2L518.9,223.9L520.7,222.9L521.9,222.4L524.5,223.4L524.2,222.5L524.2,222.5L523.9,221.1L523.4,220.5L523.2,220L521.4,218.6L520.4,217.2L518.2,217.6L516.5,216.9L515.1,216.2L513.6,216.5L512.6,215.8L512.9,214.1L511.5,213.4L510.1,214.4L509.4,216.2L507.3,217.2L508.4,218.8L507.9,219.7L507.9,221.9L509,222.3L509,222.9L510.5,223.2Z"/>
<path class="c3" d="M520.7,215.5L522.1,214.6L523.9,214.4L525.6,213.7L527.4,212.6L529.2,211.6L530.6,210.5L531.6,209.1L529.5,208.3L526.7,208.1L523.9,207.8L521.1,207.6L518.2,207.7L515.8,208.4L513.3,208.8L511.5,210.2L512.2,211.6L512.9,212.6L513.3,213.7L514.7,213.5L516.5,213.2L517.9,214.1L517.2,215.5L516.5,216.9L518.2,217.6L520.4,217.2Z"/>
<path class="c4" d="M484.4,202.8L483.1,202L478.9,204.2L478.2,208.4L478.4,210L479,210L479.2,212.1L480.3,209.8L483.8,208.4L486.7,210.5L490.2,211.2L493.8,214.1L502.2,219.8L506.5,221.9L507.9,221.9L507.9,219.8L508.4,218.8L507.3,217.2L509.4,216.2L510.1,214.4L511.5,213.4L512.9,214.1L512.9,214.2L514.7,213.5L513.3,213.7L512.9,212.6L512.2,211.5L508,213L505.5,212.3L503.7,211.2L500.8,207.7L496.7,206.3L496.7,206.3L493.9,205.9Z"/>
<path class="c4" d="M503.5,223.3L499.4,224.7L496.6,226.8L496.5,227.1L500,228L500,243.5L500.1,243.6L503.7,243.1L507.2,241.7L510.8,238.9L513.6,236.8L515.7,233.9L517.8,230.4L518.5,226.8L520.7,224.7L524.2,223.3L521.9,222.4L520.7,222.9L518.9,223.9L517.5,223.2L517.2,222.5L512.2,223.3L511.2,223L510.5,223.2L509.1,222.9L509,222.2L508,221.9L508.1,221.8L506.5,221.8Z"/>
<path class="c4" d="M500.1,243.6L500,243.5L500,244.9L500.8,246L503.7,249.5L502.2,253L506.5,254L510.8,253.8L515,254.5L518.5,256.6L522.8,255.9L520.7,252.3L518.5,248.8L521.4,246L524.2,243.1L526.3,239.6L527.8,236L526.3,232.5L529.2,230.4L531.3,227.5L527.8,224.7L524.2,223.3L520.7,224.7L518.5,226.8L517.8,230.4L515.7,233.9L513.6,236.8L510.8,238.9L507.2,241.7L503.7,243.1Z"/>
<path class="c4" d="M483.1,202L484.4,202.8L493.9,205.9L496.6,206.3L500.8,207.7L503.7,211.2L505.6,212.4L508,213L512.2,211.5L511.5,210.2L513.3,208.8L515.8,208.4L518.2,207.7L521.1,207.6L523.9,207.8L529.5,208.3L530.8,208.8L529,207L531,202L535,200L538,196L536,195L538,191L532,189.6L526,188L520,186L516,182L511,179L507,181L502,178L496,176.4L482,181L484,186L478,187.6L472,186L466,185L460,187L457,191L457,195L460.8,202.5L462,200.5L465,198.8L467.3,198.3L468,198L468.2,198.1L468.5,198L471.5,198.5L471.6,198.9L472,199L471.9,199.6L472.2,200.5L470.5,201.5L469,203L467,204L466,206L467.5,207.5L469.5,209L471.5,210L474.9,210.7L475,210L478.4,210L478.2,208.4L478.9,204.2Z"/>
<path class="c3" d="M541.8,193.5L544.7,194.7L547.6,197.1L549.4,199.4L550.6,201.8L554.1,202.7L558.2,204.1L561.8,205.9L564.7,208.2L568.2,208.6L572.4,208.8L576.5,209.4L580.6,210.6L584.1,211.2L587.6,210L591.2,209.4L594.7,207.6L594.1,205.9L594.7,203.5L598.2,202.4L601.8,200.8L605.3,199.4L607.6,197.6L604.1,195.9L600.6,195.3L597.6,194.7L597.1,192.4L598.2,190.6L595.3,189.8L591.8,189.1L588.8,190.6L585.3,191.4L581.2,191.4L578.2,189.8L575.3,188.2L571.8,188.6L568.2,188.8L565.3,187.1L561.8,185.9L558.2,185.3L557.6,189.4L554.1,189.8L550.6,188.6L546.5,187.6L542.9,189.4L540,191.8Z"/>
<path class="c3" d="M482.8,141L481.5,138.7L481.5,138.9L479.5,136.8L476,136.2L474,137.5L472.5,140.5L474.5,142L479.5,145L479,146L474,144.8L466,143.2L463.5,143L465,144.5L463.5,145.5L460,145.8L457,145.5L454.5,146L453,145.5L450,146.2L447,147.5L444.5,149L442.5,148.5L442,146.5L439,146L436.5,145.5L437.5,147.5L439.5,149.5L438,151L435,150.5L433,152L433.5,154L431,153.5L428.5,154L429,156L427.5,155L425,153.5L423,151.5L421,150L423,150L426,150.5L430,151L433,150.5L434,149L432.5,147.5L429,146L417,143L414.5,142L412.5,143L412.2,142.9L412,143L411.4,143.6L412,144.5L413.5,150L414.5,152.5L416,155L417.5,157L419.5,159L418,161L416,163L414,164.2L411.6,164.7L411.6,164.9L414,164.4L416.2,164.2L416.4,166.8L415,166.8L416,168L415,170L414,171.2L416,172.2L417,174L420,174.5L422.5,176L424,178.5L426,181L426.5,182.5L425.1,183.4L425.3,183.4L428.1,184.5L430.6,185.2L432.4,186.9L435.2,188.4L438,189.4L440.8,190.1L443.6,191.2L444,194L442.9,195.4L441.9,195.9L442.3,196.1L441.3,198.2L441.2,198.2L440.8,200.1L441,199.9L440.5,201.5L439.6,202.3L441.6,203.9L439.9,203.5L446,206.5L448.5,208L450,209.5L450,209.9L450.2,210L450.2,209L453,208.5L462,211.5L463,213L466,212.5L464,211L462,208.5L461,206L460.5,203L462,200.5L460.8,202.5L457,195L457,191L460,187L466,185L472,186L478,187.6L484,186L482,181L496,176.4L502,178L507,181L511,179L516,182L520,186L526,188L532,189.6L536.6,190.7L538.4,191L540,191.8L542.9,189.4L546.5,187.6L550.6,188.6L554.1,189.8L557.6,189.4L558.2,185.3L561.8,185.9L565.3,187.1L568.2,188.8L571.8,188.6L575.3,188.2L578.2,189.8L581.2,191.4L585.3,191.4L588.8,190.6L591.8,189.1L595.3,189.8L596.6,190.1L598,190L599,183L606,182L612,184L617,188L623,191L630,194L636,195L637.1,197.2L637.6,200.8L637,204L635,208L637,208L641,209L645,206L646.4,200L645.6,194L644,189L642.2,184.4L642.4,184.3L643,185L647,190L650,194L654,198L657,199L655,197L652,193.6L654.4,192.4L651,191L647,187L643,182L639.5,179.5L637,182L633,180L628,179L624.4,177L628,168L634,167.6L640,167L646,168L650,167L649,164L652,162L656,163L658,160L661,162L660,166L659,171L662,175L671,184L675,187L675.6,182L674,179L673,175L669,173L666,170L665,166L668,165L673,164L677,165L678,162L682,160L686,159L680,157L676,154.4L678,153L672,149L666,145.6L660,143L652,142L646,142.4L649,144.4L644,143.6L628,142.4L620,140L610,140L600,138L592,137L590.5,136.8L591,135.2L585,134.4L585.8,136.1L580.5,138.8L578,139L574,138L569,136L564,135L558,136L552,135L546,135L540,134.4L536,133L539,131L535,129.6L529,128.4L523,128L519,127L516,128L511,129L505,130L500,131L498,133L494,135L490,134.4L491,137L487,138.4L485,136.4L483.2,136.8L484.5,139L485.8,142L487.6,145L488.8,148L490,149.8L489.8,151.2L488.2,150.8L487,148.5L485.8,145.5ZM658.6,140.6L658.4,139.4L655.6,139.6L656,140.8ZM596.4,132.4L596,131.4L589,131L590,132.4ZM583,130.2L580,129.6L573.6,130L578,132L585,132.4L586,131.7L587,131.6L586.7,131.2L587,131L586.4,130.9L586,130.4ZM514,123.6L510,123.6L511,125.4L516,126L518,125ZM502,124L507,124.4L508,123L502,121L497,120L493,121L497,123ZM459,131.2L463,130.2L467,129.5L467,128.2L461,128.8L456,129.5L452,130.5L449,132.5L447.5,135.5L446.5,138.5L448,139.5L451,140L455,140.8L457,140.5L454,139L452,137.5L453,135L455.5,132.8ZM436,120.6L431,120L426.4,120.6L430,122L435,122ZM414.6,175.3L415,175.5L415.5,175L414.4,174.8Z"/>
<path class="c3" d="M646.5,233.8L647.5,235.5L649.4,237.4L651.1,239.2L652.5,238.1L651.1,236L649,234.5ZM646.5,233.8L648.2,233.1L652.1,231.8L652.1,231.9L655.3,230.3L658.2,229.6L660.3,231L663.8,229.6L666.7,228.9L668.1,226.8L667.4,222.5L666,219L663.8,215.4L661.7,212.3L659.6,213.3L659.6,215.4L661,217.5L659.6,220.4L658.2,222.5L657.5,226L654.6,226.8L651.1,228.2L648.2,231ZM663.1,210.5L664.5,208.3L666.7,206.2L664.5,204.1L661,204.8L658.2,202L656,203.4L656,206.9L656.8,209.8L658.9,211.9L660.3,209.8ZM653.2,234.4L655.3,234.1L657.5,232.4L655.3,231.6L652.5,232.7Z"/>
<path class="nd" d="M633.8,210L628.4,215.4L631.2,219.7L633.4,220.4L636.2,219L637.6,216.8L635.5,214.7L636.9,211.9L637.6,209Z"/>
<path class="nd" d="M633.4,220.4L635.2,222.5L636.9,225.3L638.3,228.9L640.5,230.3L643.3,228.9L644,226L641.9,222.5L638.3,219.7L636.2,219Z"/>
<path class="nd" d="M633.8,260.8L635.5,262.2L636.9,258.6L636.6,254.4L634.8,253.9L633.4,256.5Z"/>
<path class="c4" d="M541.4,243.9L543.2,245.6L547.5,247.7L551.7,249.8L556.7,251.2L560.6,251L560.2,247.7L556.7,247L551.7,245.6L546.8,243L542.5,241.1L541.1,242Z"/>
<path class="c1" d="M563,249.8L566.6,249.8L569,248.8L568,246.7L564.5,246L561.6,247Z"/>
<path class="c6" d="M560.9,251.7L560.9,252L561.6,256.2L563,259.8L564.5,262.9L567.3,262.3L569.4,260.5L572.2,264.7L571.5,261.9L569.7,258.3L570.8,255.5L569.4,254.1L565.2,253.4L563,251.2L561.5,251.8Z"/>
<path class="c1" d="M575.1,265.4L576.5,268.2L577.2,272.5L577.9,276.8L580,278.9L582.9,278.9L585.7,276.8L587.1,280.3L588.5,284.5L589.5,288.1L590.7,286L590,282.4L588.5,278.2L586.4,274.6L585,271.8L586.4,269L588.5,266.1L591.4,264L589.2,261.9L586.4,259L583.6,256.2L584.7,252.7L583.6,249.1L581,246.7L579.3,246.3L577.2,249.1L574.4,251.2L572.2,254.8L571.5,258.3L573,261.9Z"/>
<path class="c2" d="M593.4,262L593.4,261.9L591.4,264L594.2,269.7L597.8,270.4L600.6,272.5L606.2,283.8L609.1,283.1L609.8,279.6L609.1,275.3L607,271.1L604.8,267.5L601.3,264.7L599.2,261.9L596.3,260.5L594,261.6L593.8,261.5Z"/>
<path class="c2" d="M605,281.2L602.5,280L602,279.6L599.2,280.3L597.8,282.4L598.5,286L599.2,288.8L600.6,290.9L603.9,292.6L606.4,290.9L606.3,290.8L609.1,288.1L609.1,283.1L606.3,283.8Z"/>
<path class="c2" d="M601.3,259.8L599.2,261.9L601.3,264.7L604.8,267.5L605.6,268.8L606.2,266.1L608.4,263.3L605.5,260.5ZM606.1,269.7L607,271.1L609.1,275.3L609.8,279.6L609.1,283.1L609.1,288.1L606.2,290.9L603.1,293L604.1,297.3L606.2,295.2L609.8,292.3L612.6,289.5L614,286L613.3,281L611.2,276.8L608.4,272.5Z"/>
<path class="c2" d="M586.4,269L585,271.8L586.4,274.6L588.5,278.2L590,282.4L590.7,286L589.5,288.1L589.2,293.8L590.4,298L592.1,302.2L594.2,305.1L596.3,307.2L597.8,305.8L595.6,303.7L593.5,302.2L591.4,299.4L590,295.2L590.7,290.9L591.4,286.7L593.5,285.2L596.3,286.7L598.5,286L597.8,282.4L599.2,280.3L602,279.6L602.5,280.1L604.9,281.2L604.8,281L602.7,276.8L600.6,272.5L597.8,270.4L594.2,269.7L592.8,266.8L591.4,264L588.5,266.1Z"/>
<path class="c2" d="M623.3,315.8L628.3,311.7L631.7,309.2L635,310.8L637.5,307L635.8,305L632.5,302.5L630,304.2L627.5,307.5L623.7,310.8L620,314.2L615.8,315.8L615,317.5L618.3,318.3ZM601.3,307.5L599.2,304.2L595.8,301.7L593.3,298.3L590.8,295L590,295.4L591.4,299.4L593.5,302.2L595.6,303.7L597.8,305.8L596.3,307.2L594.2,305.1L592.1,302.2L590.4,298L589.7,295.6L589.2,295.8L589.7,298.3L591.7,301.7L594.2,305.8L594.4,306.5L594.6,307.9L596.3,311.5L599.2,315L599.8,315.4L600.8,316.7L601.3,316.4L601.7,316.7L602.1,316L602.5,315.8L602.5,315.4L602.7,315L602.1,312.6L602,311.7Z"/>
<path class="c3" d="M546,299.4L546.8,303L548.9,304.4L550.7,303L551.3,300.1L549.6,296.6L547.5,294.5L546,296.6Z"/>
<path class="c4" d="M560.9,251.2L563,251.2L565.2,253.4L569.4,254.1L570.8,255.5L569.7,258.3L571.5,261.9L572.2,264.7L573,261.9L571.5,258.3L572.2,254.8L574.4,251.2L577.2,249.1L579.3,246.3L577.2,243.5L573.7,243.5L570.8,244.2L568.7,246.3L568,246.7L569,248.8L566.6,249.8L563,249.8L561.6,247L560.2,247.7L560.6,251L556.7,251.2L551.7,249.8L543.2,245.6L541.4,243.9L541.1,242L542,241.4L541.8,241.3L536.1,234.2L535.4,230L531.9,227.2L531.1,227.8L529.2,230.4L526.3,232.5L527.8,236L526.3,239.6L524.2,243.1L518.5,248.8L522.8,255.9L518.5,256.6L518,256.2L518.4,256.9L516.3,259L519.1,261.9L521.2,264.7L524.8,265.4L527.6,264.7L528.3,269L529.8,273.9L534,285.2L536.1,290.2L539,295.2L541.1,298.7L542.5,299.4L544.6,296.6L546,292.3L546.8,286.7L546.5,282.4L548.2,278.9L555.2,271.8L558.1,268.2L560.2,264.7L563,263.3L563.6,261L563,259.8L561.6,256.2L560.9,252L561.5,251.8L561,251.7Z"/>
<path class="c2" d="M610.5,272.5L613.3,271.8L614,269L611.9,267.5L609.4,269Z"/>
<path class="c2" d="M520.7,215.5L520.3,217.2L521.4,218.7L522.8,219.7L523.9,221.1L524.2,222.5L524.1,222.5L524.5,223.4L527.8,224.7L531.3,227.5L531.1,227.8L531.9,227.2L535.4,230L536.1,234.2L541.8,241.3L542,241.4L541.1,242L542.5,241.1L546.8,243L551.7,245.6L556.7,247L560.2,247.7L561.6,247L564.5,246L568,246.7L568.7,246.3L570.8,244.2L573.7,243.5L577.2,243.5L579.3,246.3L581,246.7L583.6,249.1L584.7,252.7L583.6,256.2L584.4,257L586.7,258L594,261.6L596.3,260.5L599.2,261.9L601.3,259.8L605.5,260.5L608.4,263.3L607.9,263.9L609.3,263L611.5,264.4L613.6,265.1L616,263.9L617.1,264.7L621.3,263.6L625.6,261.5L629.1,257.9L630,256.2L631.3,254.5L632.7,250.9L633.4,246.7L633.8,245.2L633.8,245L634.1,243.1L632.4,240.3L631.2,237.4L628.4,234.5L625.3,231.3L623,228.2L623.3,227.7L624.9,226.1L627.8,224L626.3,222.6L625.3,222.8L621.3,222.5L617.7,221.1L615,218.3L620.7,214.1L623.5,216.2L626.4,214.1L628.4,215.4L635.8,208L635,208L637,204L637.7,200.7L637.2,197.3L636.1,195.1L635.8,195L630,194L623,191L617,188L612,184L606,182L599,183L598,190L596.6,190.1L598.2,190.6L597.1,192.4L597.6,194.7L600.6,195.3L604.1,195.9L607.6,197.6L605.3,199.4L601.8,200.8L598.2,202.4L594.7,203.5L594.1,205.9L594.7,207.6L591.2,209.4L587.6,210L584.1,211.2L580.6,210.6L576.5,209.4L572.4,208.8L568.2,208.6L564.7,208.2L561.8,205.9L558.2,204.1L554.1,202.7L550.6,201.8L549.4,199.4L547.6,197.1L544.7,194.7L541.8,193.5L540,191.8L538.4,191L536.6,190.7L532,189.6L538,191L536,195L538,196L535,200L531,202L529,207L530.8,208.8L531.6,209.1L530.6,210.5L529.2,211.6L525.6,213.7L523.9,214.4L522.1,214.6ZM560.9,251.2L561,251.7L561.4,251.8L563,251.2Z"/>
<path class="c4" d="M687.5,343.3L688,327.5L685,325.8L680.8,324.7L676.7,325.8L673.3,327.5L670,330L667.5,327.5L672.5,325.8L671.7,322.5L668.3,321.3L664.2,323L669.2,330.3L672.5,331.7L675,334.2L681.7,339.2L680,341.7L684.2,342ZM659.7,329L664.2,329.7L663.3,328L658.3,327.5ZM660,318.3L659.2,315L657,315.3L657.2,319.2L658.7,321.7ZM653.3,328.3L653.7,329.7L656.3,329.3L656.7,328ZM655.8,342.7L655,341.7L650,343.3L646.3,345.8L647.5,347L651.7,345ZM646.7,334.2L645.8,330L644.2,326.7L646.3,325L647.5,322L645,323L642,322L644.2,320L648.3,319.2L652,317.5L650,316.3L640.8,317.5L638.3,320L637.5,325L638,329.2L638.3,334.2L640,335L640.8,331.7L641.3,327.5L643,329.2L644.7,333.3ZM638.3,342L640,343.3L645.3,342.7L644.2,341.3ZM636.7,344.7L637.5,346.3L640,346.7L639.2,345ZM614.2,317.5L614.7,321.7L616.3,325.8L620,328.3L624.2,328.7L628.3,330.3L630,328.3L633.3,325.8L634.2,321.7L636.7,318.3L635.8,315.8L635,310.8L631.7,309.2L628.3,311.7L623.3,315.8L618.4,318.3L615,317.5L614.9,317.6ZM633,343.7L636.7,343L635,341.3L631.3,342ZM620,337.5L615,336.7L610,335.3L605.8,336.7L607.5,338.7L616.7,340.8L622.5,342.5L627.5,343L628.3,341.3L624.2,340ZM605.8,326.7L602.5,322.5L598.3,317.5L590,309.2L585.8,305.8L582.5,306.7L584.2,309.7L587.5,313.3L595.8,323.3L599.2,329.2L603.3,334.2L606.7,335.3L607.5,330.8Z"/>
<path class="c5" d="M710.8,326.7L712.5,328.3L714.2,328.7L713.3,327.5ZM714.2,328.7L712.5,331.7L708.3,333.3L704.7,334.2L706.7,336.3L710.8,335.8L714.7,333.3L715.8,330ZM693.3,343.7L696.7,343.3L699.2,342.5L702.5,345L705.8,347L709.2,348L707.5,345.8L704.2,343.3L700.8,340L702.5,337.5L700.8,335L696.7,332L691.7,329.2L688,327.5L687.5,343.3L690,343.3Z"/>
<path class="c4" d="M650,288.3L648.3,290.8L646.7,292.5L645.8,289.2L642.5,290L643.7,293.3L645.8,295.8L647.5,294.2L650.7,295.3L649.2,297.5L645.8,298.3L643.3,300L644.2,301.7L646.7,300.8L649.2,302.5L650.8,305.3L653.3,304.2L654.2,300.8L653.3,296.7L650.2,294.6L651.7,291.7ZM646.7,286.7L648.3,285.8L645.8,283.3L642.5,281.7L640.8,278.3L641.7,274.2L640,271.7L637,272.5L636.7,276.7L638.3,280L640.3,283.3L643.3,285ZM640.3,288.3L640.8,285.8L638.3,285L638.7,287.5ZM633,297.5L633.7,298.3L638,291.7L637.5,290.8L635,294.2Z"/>
<path class="c3" d="M620,411L626,409L632,408.4L636,406L642,404.4L648,403L654,403.6L658,407L660,410L664,408L662,411L663.6,415L665,419L669,421L673,420L676,421.6L682,419L687,417L691,412L695,408L699,403L702,399L704.4,394L705.6,388L704,383L702,378L699,373L696,369L695,364L693.6,358L691.6,353L689.6,348.4L688,352L686.4,358L685,363L682,366L677,363L673,360L674,357L676.4,353L673,351.6L669,351L665,350L661,354L658,359L653,357L649,359L645,363L642,365L639,369L633,372L626,374L620,378L618,383L617,390L618,398L617,404L614,409L616,411.6ZM672,433L675,430L677,426.4L673,427L669.6,426.4L667.6,433L669,434Z"/>
<path class="c2" d="M739.6,416L738,420L736,423L733,425.6L732.4,428.4L735,428L738,426L741,423L745,421L747,418.4L743,417L742,414L741,410L739,410.4L739,413ZM710,441.6L714,439L718,436L723,433L728,430L730.4,427.6L729,426L725,428L720,431L714,434.4L709,437L705.6,439L707,441Z"/>
<path class="c6" d="M743.6,362.4L745,363L744.4,358.4L743,359Z"/>
<path class="c4" d="M767,367.6L769.6,367L769.6,364.4L766,365.6Z"/>
<path class="nd" d="M738.4,378.4L740,377L736,372L734.4,373Z"/>
<path class="c6" d="M735,347L733.4,346.6L734,348.8L735.8,348.6ZM732.2,343.4L730.6,342.8L732.4,346.2L733.8,345.6ZM728.4,342.8L730.2,342.4L728.6,340L726.5,339ZM724,339.6L726.2,338.8L725.1,338.3L724,336.8L722.5,336.3ZM720.4,337.8L721.6,337L719.6,333.4L718,333Z"/>
<path class="nd" d="M332.7,264.4L333.4,259.8L335.5,258.4L336.2,251.6L344,251.3L344,248.2L338.3,248.2L334.8,249.2L331.2,252L329.1,255.6L327,259.8L324.9,264.1Z"/>
<path class="c0" d="M359.4,234.7L360,231.8L359.4,228.8L357.1,227.9L353.5,227.4L351.2,226.5L349.4,228.8L347.1,231.2L344.1,233.5L342.4,236.5L341.8,240L340,242.9L337.1,245.3L334.7,247.6L335.8,247.5L334.8,249.2L338.3,248.2L344,248.2L345.4,246.4L351.1,242.1L352.5,240L354.3,237.6L357.1,236.5Z"/>
<path class="c3" d="M380.4,227.6L379.4,230.6L381.2,232.9L382.9,235.3L384.4,238.2L385.3,239.4L386.5,237.1L388.2,235.3L387.6,233.5L385.9,231.2L387.1,228.8L385.9,226.5L386.5,224.1L384.7,222.7L382.4,222.9L380.8,224.4Z"/>
<path class="c3" d="M419.4,236.5L415.9,235.3L412.4,234.5L408.8,234.7L406.5,235.9L407.1,238.2L405.3,240.6L401.8,240L398.2,237.6L394.7,235.9L391.2,234.7L388.2,235.3L386.5,237.1L385.3,239.4L384.4,238.2L384.1,241.8L384.7,245.3L384.4,248.3L384.4,248.5L384.4,248.5L384.4,248.8L385.3,253.5L386.5,256.5L388.8,258.2L391.2,260L393,259.5L395,260.5L397.8,259.1L402.1,259.8L409.2,263.4L416.2,267.6L419.1,268.3L420.5,268.3L420.5,262.7L418.2,262.7L418.2,250L418,238.5L419.4,238.4Z"/>
<path class="c3" d="M324.9,286L331.2,285.6L331.2,284.6L324.9,284.6Z"/>
<path class="c3" d="M327,287.5L329.8,287L331.2,288.9L332.7,287.5L336.2,287.5L336.9,285.4L336.9,285.5L337,285.5L336.4,282L336.9,280.4L334.8,278.2L331.2,276.8L327.7,277.1L324.9,279.7L323.5,281.1L323.6,284.2L324.2,287.5ZM324.9,286L324.9,284.6L331.2,284.6L331.2,285.6Z"/>
<path class="c4" d="M324.2,287.5L326.3,290.3L329.1,291L331.2,288.9L329.8,287L327,287.5Z"/>
<path class="c4" d="M339,293.8L336.2,293.1L333.4,293.8L332,296L333.4,300.2L335.5,302.3L337.6,300.2L339,296.7L340.5,296L339,293.7Z"/>
<path class="c5" d="M337.6,300.2L339.8,303.8L343.3,306.6L346.1,308L345.4,303L344.7,298.1L342.6,298.4L340.5,296L339,296.7Z"/>
<path class="c4" d="M336.2,287.5L332.7,287.5L329.1,291L329.8,293.1L332,296L333.4,293.8L336.2,293.1L339,293.8L340.5,296L342.6,298.4L344.7,298.1L344,295.2L344.7,291.7L343.3,288.2L340.6,287.5L336.9,285.3Z"/>
<path class="c6" d="M356,299.5L356.5,303.8L357.5,306.6L360.3,307.3L364.6,304.8L364.6,302.2L364.5,302.3L363.6,296.7L363.8,291.7L356.8,291.7L356.8,294.5Z"/>
<path class="c4" d="M364.5,305.2L366.7,304.5L366.4,299.5L366,291.7L363.8,291.7L363.6,296.7L364.5,302.3Z"/>
<path class="c4" d="M369.5,303.8L369.8,298.1L370.9,293.8L370.9,290.3L369.5,288.9L366.7,291L366,291.7L366.4,299.5L366.7,304.5Z"/>
<path class="c5" d="M353.9,293.8L349.7,293.6L345.4,293.1L344.7,291.7L344,295.2L344.7,298.1L345.4,303L346.1,308L348.2,307.3L352.5,306.6L357.5,306.6L356.5,303.8L356,299.5L356.8,294.5Z"/>
<path class="c4" d="M364.5,283.9L363.8,280.4L360.3,281.8L356.8,283.9L353.9,286.8L351.8,289.6L350.4,293.1L349.7,293.6L353.9,293.8L356.8,294.5L356.8,291.7L366,291.7L366.7,291L369.5,288.9Z"/>
<path class="c4" d="M324.8,264.2L325.9,274L324.9,279.7L327.7,277.1L331.2,276.8L334.8,278.2L336.9,280.4L340.5,279.4L345.4,279L350.4,278.2L349,254.9L351.1,254.2L344,249.2L344,251.3L336.2,251.6L335.5,258.4L333.4,259.8L332.7,264.3L324.9,264.1Z"/>
<path class="c4" d="M372.4,275.6L372.4,269.7L371.6,269.7L366.7,265.5L351.1,254.2L349,254.9L350.4,278.2L345.4,279L340.6,279.4L340.6,279.3L336.9,280.4L336.4,282L336.9,285.3L340.5,287.5L343.3,288.2L344.7,291.7L345.4,293.1L349.7,293.6L350.4,293.1L351.8,289.6L353.9,286.8L356.8,283.9L360.3,281.8L363.8,280.4L367.4,280.4L371.6,279L372.3,275.5Z"/>
<path class="c5" d="M379.4,230.6L380.4,227.6L380.8,224.4L378.2,223.9L374.7,224.1L370,224.7L365.3,225.3L361.8,226.5L359.4,228.8L360,231.8L359.4,234.7L357.1,236.5L354.3,237.6L352.5,240L351.1,242.1L348.2,244.2L345.4,246.4L344,248.2L344,249.2L351.1,254.2L358.9,259.8L366.7,265.5L371.6,269.8L372.3,269.8L378,265.5L383.7,261.2L388.7,258.1L386.5,256.5L385.3,253.5L384.4,248.8L384.4,248.5L384.4,248.5L384.4,248.3L384.7,245.3L384.1,241.8L384.1,241.4L384.4,238.2L383.7,236.8L382.9,235.3L381.2,232.9Z"/>
<path class="c4" d="M373.8,305.2L375.9,308L379.4,308.7L383,307.3L385.1,303.8L387.9,302.3L390.8,299.5L392.9,296L395,292.4L395.7,288.9L394.3,283.9L392.2,285.3L388.6,285.3L383.7,286L379.4,285.3L375.2,284.6L372.3,286L370.2,288.2L370.9,290.3L370.9,293.8L369.8,298.1L369.5,303.8Z"/>
<path class="c5" d="M371.6,279L367.5,280.3L363.8,280.3L364.5,284.1L364.6,283.9L371,290.4L370.2,288.1L372.3,286L375.2,284.6L383.7,286L388.6,285.3L392.2,285.3L394.3,283.9L395,280.4L397.1,275.4L398.5,264.1L397.8,259.1L395,260.5L393,259.5L391.2,260L388.7,258.1L383.7,261.2L372.3,269.8L372.3,275.4Z"/>
<path class="nd" d="M384.4,317.2L390.8,317.2L390.8,314.4L384.4,314.4Z"/>
<path class="c5" d="M383,307.3L383.7,310.8L384.4,314.4L390.8,314.4L395,314.4L399.2,314.4L400.7,313.7L398.5,310.1L397.1,306.6L396.4,302.3L397.8,299.5L396.4,296L397.1,292.4L395.7,288.9L395,292.4L392.9,296L390.8,299.5L387.9,302.3L385.1,303.8Z"/>
<path class="c5" d="M397.8,259.1L398.5,264.1L397.8,269.8L397.1,275.4L395,280.4L394.3,283.9L395.7,288.9L397.1,292.4L396.4,296L397.8,299.5L400.7,300.2L404.9,298.8L409.2,297.4L412.7,295.2L415.5,293.1L417,290.3L414.8,286.8L414.1,282.5L416.2,279L417,274L416.2,267.6L409.2,263.4L402.1,259.8Z"/>
<path class="nd" d="M446.7,279.8L446.7,282.6L450.2,281.9L453.8,283.3L456.6,285.4L459.4,287.5L461.5,287.5L459.4,285.4L456.6,281.9L453.8,279L451.6,276.2L449.5,274.1L447.4,276.2Z"/>
<path class="c5" d="M459.4,287.5L458.7,289.7L460.1,291.1L462.2,289.7L461.5,287.5Z"/>
<path class="nd" d="M421.2,300.3L423.3,303.1L426.1,306.7L429,308.8L432.5,310.2L435.3,309.5L438.9,310.2L441.7,308.1L443.8,306L441.7,302.4L440.3,298.2L439.6,293.2L438.9,289.7L437.5,289L436.8,292.5L433.9,294.6L430.4,295.3L426.8,294.6L423.3,293.9L421.2,295.3L419,297.5Z"/>
<path class="c4" d="M448.8,271.2L446,262.8L420.5,262.8L420.5,268.3L419.1,268.3L416.2,267.6L417,274L416.2,279L414.1,282.5L414.8,286.8L417,290.3L416.1,292.1L416.9,292.5L419,297.5L421.2,295.3L423.3,293.9L430.4,295.3L433.9,294.6L436.8,292.5L437.5,289L438.9,289.7L439.6,293.2L441,291.1L442.4,288.2L444.5,285.4L445.9,282.6L446.7,282.6L446.7,279.6L447.4,276.2L449.5,274.1Z"/>
<path class="c5" d="M446,282.6L444.5,285.4L442.4,288.2L441,291.1L439.6,293.2L440.3,298.2L441.7,302.4L443.8,306L446,308.1L449.5,309.5L453.8,310.9L458,309.5L462.2,308.1L466.5,306.7L469.3,303.1L472.2,299.6L469.3,298.2L465.1,295.3L462.2,292.5L460.1,291.1L458.7,289.7L459.4,287.5L456.6,285.4L453.8,283.3L450.2,281.9L446.7,282.6Z"/>
<path class="nd" d="M458.3,320.1L459.4,323.7L463,319.4L467.2,315.2L471.5,309.5L475,303.8L477.8,298.2L480,292.5L480.7,288L477.8,288.2L472.2,289.7L466.5,290.4L462.2,289.7L460.1,291.1L462.2,292.5L465.1,295.3L469.3,298.2L472.2,299.6L469.3,303.1L466.5,306.7L462.2,308.1L458,309.5Z"/>
<path class="c5" d="M434.4,322.9L435.5,322.8L435.5,322.8L433.9,322.9L432.8,322.5L432.4,323.9L430.8,324.3L431.4,327.2L433.6,326.5L433.4,325Z"/>
<path class="c7" d="M431.4,332.2L433.4,331.5L433.2,327.4L431.1,327.6Z"/>
<path class="c4" d="M432.5,310.2L433.2,313.8L432.5,318L431.8,322.2L433.9,323L438.2,322.5L442.4,323L443.1,318L443.6,313.8L442.4,310.9L441.7,308.1L438.9,310.2L435.3,309.5Z"/>
<path class="c5" d="M441.7,308.1L442.4,310.9L443.6,313.8L443.1,318L442.4,323L445.2,325.8L449.5,329.3L452.3,332.2L453.8,331.5L456.6,327.9L459.4,323.7L458.3,320.1L458,309.5L453.8,310.9L449.5,309.5L446,308.1L443.8,306Z"/>
<path class="c5" d="M419,297.5L416.9,292.5L416.1,292.1L417,290.3L415.5,293.1L412.7,295.2L409.2,297.4L404.9,298.8L400.7,300.2L397.8,299.5L396.4,302.3L397.1,306.6L398.5,310.1L400.2,313L402,311.6L404.2,309.5L407.7,310.2L411.2,309.5L413.4,306.7L416.9,307.4L421.2,308.1L425.4,309.5L429,308.8L426.1,306.7L423.3,303.1L421.2,300.3Z"/>
<path class="nd" d="M384.2,317.1L383.9,320.7L385.6,323.5L387.7,327L389.8,329.2L392.7,326.3L396.2,325.6L394.8,322.1L395.5,318.5L394.1,315L394.2,314.4L390.8,314.4L390.8,317.2L384.4,317.2L384.4,317Z"/>
<path class="c4" d="M389.8,331.7L392,332.7L394.8,331.3L397.6,329.9L400.5,327.8L401.9,323.5L403.3,319.2L404,315L405.3,309.7L404.2,309.5L402,311.6L400.2,313L398.5,310.1L400.7,313.7L399.2,314.4L395,314.4L394.2,314.4L394.1,315L395.5,318.5L394.8,322.1L396.2,325.6L392.7,326.3L389.8,329.2Z"/>
<path class="nd" d="M390.5,358.9L389.8,364.6L394.8,364.6L400.5,364.9L406.1,365.3L411.1,366.7L415.3,365.3L413.9,361.8L413.2,357.5L413.9,354L417.5,353.2L417.5,349.7L413.9,349L413.2,341.9L411.1,339.1L407.5,339.8L404,338.4L400.5,336L394.8,335.5L391.2,336.2L392.7,341.9L393.4,347.6ZM392,332.7L391.2,332.4L389.8,332.7L390.3,335.1L392,334.8L391.8,333.8Z"/>
<path class="c4" d="M438,354.7L439.5,355.4L440.8,357.5L441.5,361L443,363.2L444.4,361L443.7,357.5L442.2,354L440.8,351.1L438.7,350.4L438.7,353.2Z"/>
<path class="c6" d="M440.9,349L436.6,343.3L433,341.2L429.5,341.9L428.1,345.5L428.8,349.7L427.4,351.8L429.5,354L426.7,353.2L423.8,350.4L420.3,349.7L417.5,349.7L417.5,353.2L413.9,354L413.2,357.5L413.9,361.8L415.3,365.3L418.9,365.3L422.4,366.3L425.2,365.3L433.8,358.9L436.6,357.5L438.7,353.2L438.7,350.5Z"/>
<path class="c6" d="M423.1,368.1L424.5,370.2L426.7,373.8L428.8,376.6L431.6,378L431.7,378L432.4,378.2L432.2,377.6L434.5,375.9L436.6,372.4L437.7,368.1L437.3,363.9L434.5,361.8L430.9,361L425.2,365.3L422.4,366.3Z"/>
<path class="c2" d="M438.2,322.5L433.9,322.9L432.8,322.5L432.4,323.9L433.2,323.7L433.6,326.5L431.4,327.2L431.3,327.1L430.6,327.8L430.9,332L431.6,336.2L433,341.2L436.6,343.3L440.8,349L443.7,349.7L455.7,347.6L455,344.8L453.6,341.2L452.9,336.2L453.5,331.6L452.3,332.2L449.5,329.3L445.4,325.9L442.4,322.9ZM433.4,331.5L431.4,332.2L431.1,327.6L433.2,327.4Z"/>
<path class="c4" d="M440.8,351.1L442.2,354L443.7,357.5L444.4,361L443,363.2L441.5,361L440.8,357.5L439.4,355.4L438,354.7L436.6,357.5L433.8,358.9L430.9,361L434.5,361.8L437.3,363.9L437.7,368.1L436.6,372.4L434.5,375.8L431.6,378L432.3,378.2L433.4,381.3L434.5,387.8L434.5,388.7L436.6,386.5L440.8,384.4L443.4,381.6L443,377.3L442.2,373.1L445.1,369.5L448.6,366L452.2,363.2L455,358.9L455.7,353.2L455.7,347.6L443.7,349.7L440.8,349L438.7,350.4Z"/>
<path class="c5" d="M431.3,327.2L431.4,327.2L430.8,324.4L432.4,323.9L432.8,322.6L431.8,322.2L433.2,313.8L432.5,310.2L429,308.8L425.4,309.5L421.2,308.1L416.9,307.4L413.4,306.7L411.2,309.5L407.7,310.2L405.3,309.7L404,315L403.3,319.2L400.5,327.8L397.6,329.9L392,332.7L391.8,333.7L392,334.8L391.5,334.9L391.2,336.2L394.8,335.5L400.5,336L404,338.4L407.5,339.8L411.1,339.1L413.2,341.9L413.9,349L417.5,349.7L420.3,349.7L423.8,350.4L426.7,353.2L429.5,354L427.4,351.8L428.8,349.7L428.1,345.5L429.5,341.9L433.1,341.2L431.6,336.2L430.9,332L430.6,327.8Z"/>
<path class="c3" d="M473.4,355.4L471.3,358.9L467.8,361.8L464.2,363.9L463.5,367.4L462.8,372.4L461.4,377.3L460.7,381.6L462.8,385.8L466.3,386.5L469.2,383.7L471.3,378.8L473.4,373.1L475.5,368.1L477.7,362.5L478.4,358.2L477,354L475.5,351.6Z"/>
<path class="c5" d="M424.1,400.4L426.4,399.9L428.4,396.6L425.5,394.4L422.7,397.5Z"/>
<path class="c3" d="M433.8,386.6L431.6,387.6L432.1,390.9L434,391.4L435.2,389L434.8,388.4L434.5,388.7L434.5,387.8Z"/>
<path class="c5" d="M389.8,364.9L391,367.1L392.7,371.3L396.9,385.5L399,391.9L401.9,396.1L405.4,394.7L407.6,391.9L407.8,388.7L408,387.7L408.2,387.8L408.2,388.3L408.3,388.3L408,385.3L408.2,377.7L410.1,377L410.4,371.3L411.1,367.8L416.8,366.4L416.2,366.1L416.8,366L418.3,365.3L415.3,365.3L411.1,366.7L406.1,365.3L400.5,364.8L394.8,364.6L389.8,364.6Z"/>
<path class="c5" d="M423.1,368.1L422.4,366.3L418.9,365.3L418.2,365.3L416.8,365.9L416.1,366.1L416.8,366.4L411.1,367.8L410.4,371.3L410.1,377L408.2,377.7L408,385.5L408.2,388.3L410.4,389.8L412.5,386.9L416.8,386.2L420.3,384.4L423.1,382L425.9,379.2L428.8,377.3L431.3,377.9L431.7,378.1L431.8,378.1L428.8,376.6L426.7,373.8L424.5,370.2Z"/>
<path class="c3" d="M427.6,375L427.6,375L428.8,377L425.8,379.2L425.9,379.2L423.1,382L420.3,384.4L416.8,386.2L412.5,386.9L410.4,389.8L408.2,388.3L408.2,387.8L408,387.6L407.8,388.7L407.5,391.9L405.4,394.7L401.9,396.1L401.3,395.2L400.5,395.4L401.4,400.4L402.6,404.6L402.9,408.2L404.7,410.3L408.2,409.6L412.5,408.9L417.5,408.2L421.7,406.8L426,403.9L429.5,401.1L432.3,397.5L434.9,394L435.4,390.5L435,389.3L434,391.4L432.1,390.9L431.6,387.6L433.8,386.6L434.5,387.8L433.5,381.2L432.3,378.1L431.7,378L431.6,378L428.8,376.6ZM422.7,397.5L425.5,394.4L428.4,396.6L426.4,399.9L424.1,400.4Z"/>
</g>
<g id="legend">
<text x="122.3" y="530" text-anchor="middle" class="lg" textLength="45.4" lengthAdjust="spacingAndGlyphs">No data</text>
<line x1="122.4" y1="534.5" x2="122.4" y2="537.5" stroke="#8f8f8f" stroke-width="0.6"/>
<rect x="98.5" y="537.5" width="48" height="11" fill="url(#hatch)" stroke="#c4c4c4" stroke-width="0.7"/>
<rect x="166.4" y="537.5" width="58.5" height="11" fill="#fff5f0" stroke="#bdbdbd" stroke-width="0.6"/>
<rect x="224.9" y="537.5" width="58.5" height="11" fill="#fee0d2" stroke="#bdbdbd" stroke-width="0.6"/>
<rect x="283.4" y="537.5" width="58.5" height="11" fill="#fcbba1" stroke="#bdbdbd" stroke-width="0.6"/>
<rect x="341.8" y="537.5" width="58.5" height="11" fill="#fc9272" stroke="#bdbdbd" stroke-width="0.6"/>
<rect x="400.3" y="537.5" width="58.5" height="11" fill="#fb6a4a" stroke="#bdbdbd" stroke-width="0.6"/>
<rect x="458.8" y="537.5" width="58.5" height="11" fill="#ef3b2c" stroke="#bdbdbd" stroke-width="0.6"/>
<rect x="517.3" y="537.5" width="58.5" height="11" fill="#cb181d" stroke="#bdbdbd" stroke-width="0.6"/>
<rect x="575.8" y="537.5" width="58.5" height="11" fill="#a50f15" stroke="#bdbdbd" stroke-width="0.6"/>
<rect x="634.2" y="537.5" width="58.5" height="11" fill="#860811" stroke="#bdbdbd" stroke-width="0.6"/>
<rect x="692.7" y="537.5" width="58.5" height="11" fill="#67000d" stroke="#bdbdbd" stroke-width="0.6"/>
<line x1="166.4" y1="534.5" x2="166.4" y2="548.5" stroke="#9a9a9a" stroke-width="0.7"/>
<text x="166.3" y="530" text-anchor="middle" class="lg">0%</text>
<line x1="224.9" y1="534.5" x2="224.9" y2="548.5" stroke="#9a9a9a" stroke-width="0.7"/>
<text x="224.8" y="530" text-anchor="middle" class="lg">10%</text>
<line x1="283.4" y1="534.5" x2="283.4" y2="548.5" stroke="#9a9a9a" stroke-width="0.7"/>
<text x="283.3" y="530" text-anchor="middle" class="lg">20%</text>
<line x1="341.8" y1="534.5" x2="341.8" y2="548.5" stroke="#9a9a9a" stroke-width="0.7"/>
<text x="341.7" y="530" text-anchor="middle" class="lg">30%</text>
<line x1="400.3" y1="534.5" x2="400.3" y2="548.5" stroke="#9a9a9a" stroke-width="0.7"/>
<text x="400.2" y="530" text-anchor="middle" class="lg">40%</text>
<line x1="458.8" y1="534.5" x2="458.8" y2="548.5" stroke="#9a9a9a" stroke-width="0.7"/>
<text x="458.7" y="530" text-anchor="middle" class="lg">50%</text>
<line x1="517.3" y1="534.5" x2="517.3" y2="548.5" stroke="#9a9a9a" stroke-width="0.7"/>
<text x="517.2" y="530" text-anchor="middle" class="lg">60%</text>
<line x1="575.8" y1="534.5" x2="575.8" y2="548.5" stroke="#9a9a9a" stroke-width="0.7"/>
<text x="575.7" y="530" text-anchor="middle" class="lg">70%</text>
<line x1="634.2" y1="534.5" x2="634.2" y2="548.5" stroke="#9a9a9a" stroke-width="0.7"/>
<text x="634.1" y="530" text-anchor="middle" class="lg">80%</text>
<line x1="692.7" y1="534.5" x2="692.7" y2="548.5" stroke="#9a9a9a" stroke-width="0.7"/>
<text x="692.6" y="530" text-anchor="middle" class="lg">90%</text>
<line x1="751.2" y1="534.5" x2="751.2" y2="548.5" stroke="#9a9a9a" stroke-width="0.7"/>
<text x="751.1" y="530" text-anchor="middle" class="lg">100%</text>
</g>
<text class="ft" y="581"><tspan font-weight="bold"><tspan x="16.3" textLength="23.6" lengthAdjust="spacingAndGlyphs">Data</tspan> <tspan x="45.6" textLength="43.9" lengthAdjust="spacingAndGlyphs">source:</tspan></tspan> <tspan x="91.4" textLength="33" lengthAdjust="spacingAndGlyphs">Know</tspan> <tspan x="128.3" textLength="49.2" lengthAdjust="spacingAndGlyphs">Violence</tspan> <tspan x="180.8" textLength="10" lengthAdjust="spacingAndGlyphs">in</tspan> <tspan x="193.8" textLength="59.5" lengthAdjust="spacingAndGlyphs">Childhood</tspan> <tspan x="256.4" textLength="38.1" lengthAdjust="spacingAndGlyphs">Report</tspan> <tspan x="297.6" textLength="38.4" lengthAdjust="spacingAndGlyphs">(2017)</tspan></text>
<text class="ft" y="581"><tspan x="460.4" textLength="169.6" lengthAdjust="spacingAndGlyphs">OurWorldinData.org/violence</tspan><tspan x="630.1" textLength="44" lengthAdjust="spacingAndGlyphs">-against</tspan><tspan x="674.6" textLength="36.4" lengthAdjust="spacingAndGlyphs">-rights</tspan><tspan x="711.4" textLength="19.4" lengthAdjust="spacingAndGlyphs">-for</tspan><tspan x="731.2" textLength="52.7" lengthAdjust="spacingAndGlyphs">-children</tspan> <tspan x="786.8" textLength="3.3" lengthAdjust="spacingAndGlyphs">|</tspan> <tspan x="793.5" textLength="14.9" lengthAdjust="spacingAndGlyphs">CC</tspan> <tspan x="812.3" textLength="17.9" lengthAdjust="spacingAndGlyphs">BY</tspan></text>

</svg>
</body>
</html>
